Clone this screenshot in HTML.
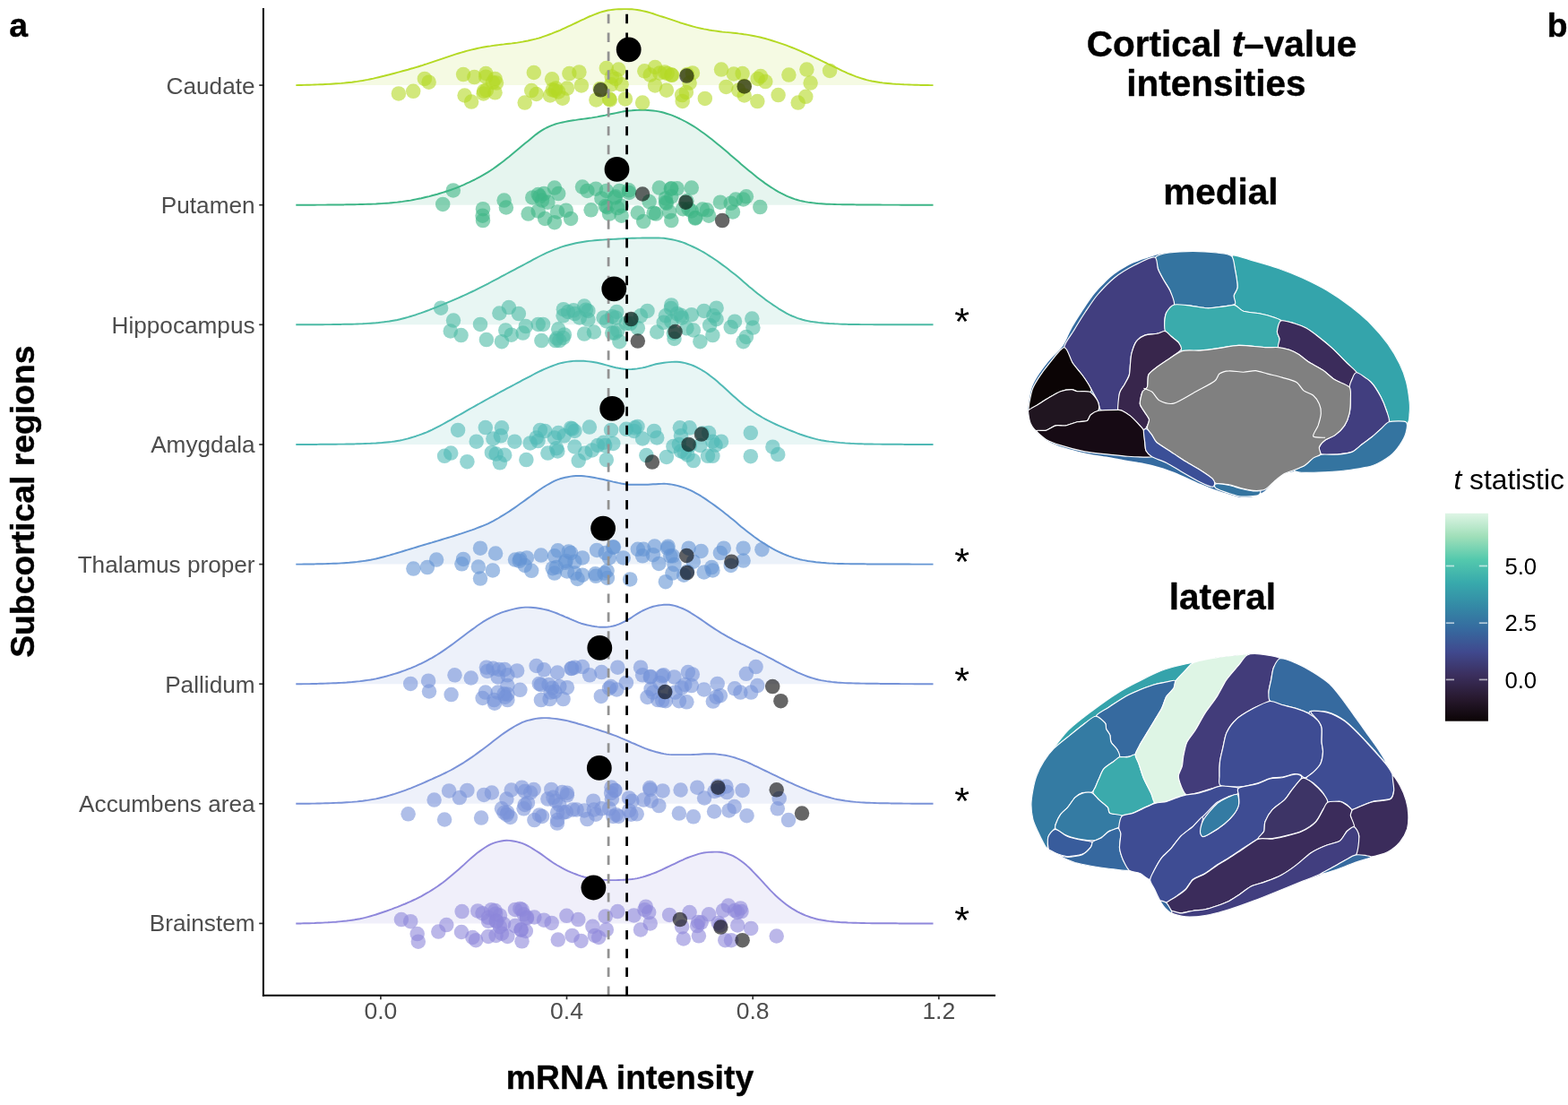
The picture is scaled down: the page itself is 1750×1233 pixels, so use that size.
<!DOCTYPE html>
<html lang="en"><head><meta charset="utf-8"><title>Subcortical mRNA intensity and cortical t-value intensities</title>
<style>html,body{margin:0;padding:0;background:#fff}svg{display:block}text{font-family:'Liberation Sans', Arial, Helvetica, sans-serif}</style></head><body>
<svg width="1750" height="1233" viewBox="0 0 1750 1233" role="img" aria-label="Ridgeline plot of subcortical mRNA intensity and cortical t-value brain maps">
<rect width="1750" height="1233" fill="#fff"/>
<g>
<path d="M330.3,95.1 L333.3,95 L336.3,95 L339.2,94.9 L342.2,94.8 L345.2,94.8 L348.2,94.6 L351.1,94.5 L354.1,94.4 L357.1,94.3 L360.1,94.2 L363,94 L366,93.9 L369,93.7 L372,93.5 L374.9,93.3 L377.9,93.1 L380.9,92.9 L383.9,92.6 L386.8,92.3 L389.8,92 L392.8,91.7 L395.8,91.3 L398.7,90.9 L401.7,90.4 L404.7,90 L407.7,89.4 L410.6,88.9 L413.6,88.2 L416.6,87.6 L419.6,86.9 L422.5,86.2 L425.5,85.5 L428.5,84.8 L431.5,84 L434.5,83.3 L437.4,82.5 L440.4,81.7 L443.4,80.9 L446.4,80.1 L449.3,79.3 L452.3,78.5 L455.3,77.7 L458.3,76.8 L461.2,76 L464.2,75.1 L467.2,74.2 L470.2,73.3 L473.1,72.3 L476.1,71.4 L479.1,70.4 L482.1,69.4 L485,68.4 L488,67.4 L491,66.4 L494,65.4 L496.9,64.4 L499.9,63.4 L502.9,62.4 L505.9,61.4 L508.8,60.4 L511.8,59.5 L514.8,58.6 L517.8,57.8 L520.7,56.9 L523.7,56.1 L526.7,55.4 L529.7,54.7 L532.6,54 L535.6,53.4 L538.6,52.8 L541.6,52.3 L544.6,51.8 L547.5,51.4 L550.5,50.9 L553.5,50.5 L556.5,50.1 L559.4,49.7 L562.4,49.4 L565.4,49 L568.4,48.7 L571.3,48.4 L574.3,48 L577.3,47.6 L580.3,47.1 L583.2,46.6 L586.2,46 L589.2,45.5 L592.2,44.8 L595.1,44.1 L598.1,43.4 L601.1,42.6 L604.1,41.7 L607,40.7 L610,39.6 L613,38.5 L616,37.4 L618.9,36.2 L621.9,35 L624.9,33.8 L627.9,32.4 L630.8,31.1 L633.8,29.7 L636.8,28.3 L639.8,26.9 L642.8,25.5 L645.7,24.1 L648.7,22.7 L651.7,21.3 L654.7,19.8 L657.6,18.5 L660.6,17.3 L663.6,16.1 L666.6,15 L669.5,13.9 L672.5,13 L675.5,12.2 L678.5,11.5 L681.4,11.1 L684.4,10.7 L687.4,10.4 L690.4,10.3 L693.3,10.2 L696.3,10.1 L699.3,10.1 L702.3,10.2 L705.2,10.3 L708.2,10.6 L711.2,11 L714.2,11.5 L717.1,12.1 L720.1,12.7 L723.1,13.5 L726.1,14.4 L729,15.3 L732,16.3 L735,17.3 L738,18.3 L741,19.2 L743.9,20.2 L746.9,21.2 L749.9,22.2 L752.9,23.2 L755.8,24.2 L758.8,25.2 L761.8,26.1 L764.8,27 L767.7,27.9 L770.7,28.8 L773.7,29.6 L776.7,30.4 L779.6,31.1 L782.6,31.8 L785.6,32.4 L788.6,32.9 L791.5,33.5 L794.5,34 L797.5,34.4 L800.5,34.8 L803.4,35.2 L806.4,35.6 L809.4,35.9 L812.4,36.1 L815.3,36.4 L818.3,36.7 L821.3,37 L824.3,37.4 L827.2,37.7 L830.2,38.2 L833.2,38.6 L836.2,39.1 L839.2,39.7 L842.1,40.3 L845.1,40.9 L848.1,41.5 L851.1,42.3 L854,43 L857,43.9 L860,44.8 L863,45.7 L865.9,46.6 L868.9,47.6 L871.9,48.6 L874.9,49.6 L877.8,50.7 L880.8,51.8 L883.8,53 L886.8,54.2 L889.7,55.4 L892.7,56.7 L895.7,58 L898.7,59.3 L901.6,60.7 L904.6,62 L907.6,63.4 L910.6,64.8 L913.5,66.2 L916.5,67.7 L919.5,69.1 L922.5,70.5 L925.4,72 L928.4,73.4 L931.4,74.8 L934.4,76.2 L937.3,77.6 L940.3,79.1 L943.3,80.4 L946.3,81.8 L949.3,83 L952.2,84.2 L955.2,85.3 L958.2,86.3 L961.2,87.3 L964.1,88.2 L967.1,89.1 L970.1,89.9 L973.1,90.5 L976,91 L979,91.5 L982,92 L985,92.4 L987.9,92.7 L990.9,93 L993.9,93.3 L996.9,93.6 L999.8,93.8 L1002.8,93.9 L1005.8,94.1 L1008.8,94.3 L1011.7,94.4 L1014.7,94.5 L1017.7,94.6 L1020.7,94.7 L1023.6,94.8 L1026.6,94.9 L1029.6,94.9 L1032.6,95 L1035.5,95 L1038.5,95.1 L1041.5,95.1 L1041.5,95.1 L330.3,95.1 Z" fill="#B4D924" fill-opacity="0.13" stroke="none"/>
<path d="M330.3,95.1 L333.3,95 L336.3,95 L339.2,94.9 L342.2,94.8 L345.2,94.8 L348.2,94.6 L351.1,94.5 L354.1,94.4 L357.1,94.3 L360.1,94.2 L363,94 L366,93.9 L369,93.7 L372,93.5 L374.9,93.3 L377.9,93.1 L380.9,92.9 L383.9,92.6 L386.8,92.3 L389.8,92 L392.8,91.7 L395.8,91.3 L398.7,90.9 L401.7,90.4 L404.7,90 L407.7,89.4 L410.6,88.9 L413.6,88.2 L416.6,87.6 L419.6,86.9 L422.5,86.2 L425.5,85.5 L428.5,84.8 L431.5,84 L434.5,83.3 L437.4,82.5 L440.4,81.7 L443.4,80.9 L446.4,80.1 L449.3,79.3 L452.3,78.5 L455.3,77.7 L458.3,76.8 L461.2,76 L464.2,75.1 L467.2,74.2 L470.2,73.3 L473.1,72.3 L476.1,71.4 L479.1,70.4 L482.1,69.4 L485,68.4 L488,67.4 L491,66.4 L494,65.4 L496.9,64.4 L499.9,63.4 L502.9,62.4 L505.9,61.4 L508.8,60.4 L511.8,59.5 L514.8,58.6 L517.8,57.8 L520.7,56.9 L523.7,56.1 L526.7,55.4 L529.7,54.7 L532.6,54 L535.6,53.4 L538.6,52.8 L541.6,52.3 L544.6,51.8 L547.5,51.4 L550.5,50.9 L553.5,50.5 L556.5,50.1 L559.4,49.7 L562.4,49.4 L565.4,49 L568.4,48.7 L571.3,48.4 L574.3,48 L577.3,47.6 L580.3,47.1 L583.2,46.6 L586.2,46 L589.2,45.5 L592.2,44.8 L595.1,44.1 L598.1,43.4 L601.1,42.6 L604.1,41.7 L607,40.7 L610,39.6 L613,38.5 L616,37.4 L618.9,36.2 L621.9,35 L624.9,33.8 L627.9,32.4 L630.8,31.1 L633.8,29.7 L636.8,28.3 L639.8,26.9 L642.8,25.5 L645.7,24.1 L648.7,22.7 L651.7,21.3 L654.7,19.8 L657.6,18.5 L660.6,17.3 L663.6,16.1 L666.6,15 L669.5,13.9 L672.5,13 L675.5,12.2 L678.5,11.5 L681.4,11.1 L684.4,10.7 L687.4,10.4 L690.4,10.3 L693.3,10.2 L696.3,10.1 L699.3,10.1 L702.3,10.2 L705.2,10.3 L708.2,10.6 L711.2,11 L714.2,11.5 L717.1,12.1 L720.1,12.7 L723.1,13.5 L726.1,14.4 L729,15.3 L732,16.3 L735,17.3 L738,18.3 L741,19.2 L743.9,20.2 L746.9,21.2 L749.9,22.2 L752.9,23.2 L755.8,24.2 L758.8,25.2 L761.8,26.1 L764.8,27 L767.7,27.9 L770.7,28.8 L773.7,29.6 L776.7,30.4 L779.6,31.1 L782.6,31.8 L785.6,32.4 L788.6,32.9 L791.5,33.5 L794.5,34 L797.5,34.4 L800.5,34.8 L803.4,35.2 L806.4,35.6 L809.4,35.9 L812.4,36.1 L815.3,36.4 L818.3,36.7 L821.3,37 L824.3,37.4 L827.2,37.7 L830.2,38.2 L833.2,38.6 L836.2,39.1 L839.2,39.7 L842.1,40.3 L845.1,40.9 L848.1,41.5 L851.1,42.3 L854,43 L857,43.9 L860,44.8 L863,45.7 L865.9,46.6 L868.9,47.6 L871.9,48.6 L874.9,49.6 L877.8,50.7 L880.8,51.8 L883.8,53 L886.8,54.2 L889.7,55.4 L892.7,56.7 L895.7,58 L898.7,59.3 L901.6,60.7 L904.6,62 L907.6,63.4 L910.6,64.8 L913.5,66.2 L916.5,67.7 L919.5,69.1 L922.5,70.5 L925.4,72 L928.4,73.4 L931.4,74.8 L934.4,76.2 L937.3,77.6 L940.3,79.1 L943.3,80.4 L946.3,81.8 L949.3,83 L952.2,84.2 L955.2,85.3 L958.2,86.3 L961.2,87.3 L964.1,88.2 L967.1,89.1 L970.1,89.9 L973.1,90.5 L976,91 L979,91.5 L982,92 L985,92.4 L987.9,92.7 L990.9,93 L993.9,93.3 L996.9,93.6 L999.8,93.8 L1002.8,93.9 L1005.8,94.1 L1008.8,94.3 L1011.7,94.4 L1014.7,94.5 L1017.7,94.6 L1020.7,94.7 L1023.6,94.8 L1026.6,94.9 L1029.6,94.9 L1032.6,95 L1035.5,95 L1038.5,95.1 L1041.5,95.1" fill="none" stroke="#B4D924" stroke-width="1.95" stroke-linejoin="round"/>
</g>
<g>
<path d="M330.3,228.7 L333.3,228.7 L336.3,228.7 L339.2,228.7 L342.2,228.7 L345.2,228.7 L348.2,228.7 L351.1,228.7 L354.1,228.6 L357.1,228.6 L360.1,228.6 L363,228.6 L366,228.5 L369,228.5 L372,228.5 L374.9,228.4 L377.9,228.4 L380.9,228.4 L383.9,228.4 L386.8,228.3 L389.8,228.3 L392.8,228.2 L395.8,228.2 L398.7,228.1 L401.7,228 L404.7,228 L407.7,227.9 L410.6,227.8 L413.6,227.7 L416.6,227.6 L419.6,227.5 L422.5,227.3 L425.5,227.1 L428.5,226.9 L431.5,226.7 L434.5,226.5 L437.4,226.2 L440.4,225.9 L443.4,225.6 L446.4,225.2 L449.3,224.9 L452.3,224.4 L455.3,224 L458.3,223.6 L461.2,223 L464.2,222.4 L467.2,221.8 L470.2,221.2 L473.1,220.5 L476.1,219.8 L479.1,219.1 L482.1,218.3 L485,217.5 L488,216.7 L491,215.8 L494,214.9 L496.9,214 L499.9,213 L502.9,212 L505.9,210.9 L508.8,209.8 L511.8,208.6 L514.8,207.3 L517.8,206.1 L520.7,204.7 L523.7,203.4 L526.7,201.9 L529.7,200.5 L532.6,198.9 L535.6,197.3 L538.6,195.7 L541.6,193.9 L544.6,192.1 L547.5,190.2 L550.5,188.2 L553.5,186.1 L556.5,183.9 L559.4,181.7 L562.4,179.4 L565.4,177 L568.4,174.7 L571.3,172.3 L574.3,169.8 L577.3,167.3 L580.3,164.8 L583.2,162.3 L586.2,159.8 L589.2,157.4 L592.2,154.9 L595.1,152.5 L598.1,150.1 L601.1,147.9 L604.1,145.9 L607,144.1 L610,142.5 L613,141.1 L616,139.8 L618.9,138.8 L621.9,137.9 L624.9,137.1 L627.9,136.5 L630.8,135.9 L633.8,135.3 L636.8,134.8 L639.8,134.3 L642.8,133.9 L645.7,133.4 L648.7,133 L651.7,132.6 L654.7,132.2 L657.6,131.8 L660.6,131.4 L663.6,130.9 L666.6,130.4 L669.5,129.8 L672.5,129.2 L675.5,128.6 L678.5,127.9 L681.4,127.3 L684.4,126.7 L687.4,126.1 L690.4,125.5 L693.3,124.9 L696.3,124.3 L699.3,123.9 L702.3,123.5 L705.2,123.3 L708.2,123 L711.2,122.9 L714.2,122.8 L717.1,122.8 L720.1,122.8 L723.1,123 L726.1,123.2 L729,123.5 L732,123.9 L735,124.4 L738,125 L741,125.8 L743.9,126.7 L746.9,127.7 L749.9,128.7 L752.9,129.9 L755.8,131.2 L758.8,132.5 L761.8,134 L764.8,135.5 L767.7,137.1 L770.7,138.8 L773.7,140.6 L776.7,142.5 L779.6,144.5 L782.6,146.7 L785.6,148.8 L788.6,151.1 L791.5,153.3 L794.5,155.6 L797.5,158 L800.5,160.4 L803.4,162.8 L806.4,165.3 L809.4,167.8 L812.4,170.3 L815.3,172.9 L818.3,175.4 L821.3,178 L824.3,180.6 L827.2,183.2 L830.2,185.7 L833.2,188.2 L836.2,190.7 L839.2,193.1 L842.1,195.5 L845.1,197.9 L848.1,200.2 L851.1,202.4 L854,204.6 L857,206.6 L860,208.6 L863,210.5 L865.9,212.3 L868.9,214.1 L871.9,215.7 L874.9,217.2 L877.8,218.6 L880.8,219.8 L883.8,221 L886.8,222.1 L889.7,223 L892.7,223.9 L895.7,224.5 L898.7,225.1 L901.6,225.6 L904.6,226 L907.6,226.4 L910.6,226.8 L913.5,227.1 L916.5,227.3 L919.5,227.5 L922.5,227.7 L925.4,227.8 L928.4,227.9 L931.4,228 L934.4,228.1 L937.3,228.1 L940.3,228.2 L943.3,228.2 L946.3,228.3 L949.3,228.3 L952.2,228.3 L955.2,228.4 L958.2,228.4 L961.2,228.4 L964.1,228.4 L967.1,228.5 L970.1,228.5 L973.1,228.5 L976,228.5 L979,228.5 L982,228.5 L985,228.6 L987.9,228.6 L990.9,228.6 L993.9,228.6 L996.9,228.6 L999.8,228.6 L1002.8,228.6 L1005.8,228.7 L1008.8,228.7 L1011.7,228.7 L1014.7,228.7 L1017.7,228.7 L1020.7,228.7 L1023.6,228.7 L1026.6,228.7 L1029.6,228.7 L1032.6,228.7 L1035.5,228.7 L1038.5,228.7 L1041.5,228.7 L1041.5,228.7 L330.3,228.7 Z" fill="#3DB586" fill-opacity="0.13" stroke="none"/>
<path d="M330.3,228.7 L333.3,228.7 L336.3,228.7 L339.2,228.7 L342.2,228.7 L345.2,228.7 L348.2,228.7 L351.1,228.7 L354.1,228.6 L357.1,228.6 L360.1,228.6 L363,228.6 L366,228.5 L369,228.5 L372,228.5 L374.9,228.4 L377.9,228.4 L380.9,228.4 L383.9,228.4 L386.8,228.3 L389.8,228.3 L392.8,228.2 L395.8,228.2 L398.7,228.1 L401.7,228 L404.7,228 L407.7,227.9 L410.6,227.8 L413.6,227.7 L416.6,227.6 L419.6,227.5 L422.5,227.3 L425.5,227.1 L428.5,226.9 L431.5,226.7 L434.5,226.5 L437.4,226.2 L440.4,225.9 L443.4,225.6 L446.4,225.2 L449.3,224.9 L452.3,224.4 L455.3,224 L458.3,223.6 L461.2,223 L464.2,222.4 L467.2,221.8 L470.2,221.2 L473.1,220.5 L476.1,219.8 L479.1,219.1 L482.1,218.3 L485,217.5 L488,216.7 L491,215.8 L494,214.9 L496.9,214 L499.9,213 L502.9,212 L505.9,210.9 L508.8,209.8 L511.8,208.6 L514.8,207.3 L517.8,206.1 L520.7,204.7 L523.7,203.4 L526.7,201.9 L529.7,200.5 L532.6,198.9 L535.6,197.3 L538.6,195.7 L541.6,193.9 L544.6,192.1 L547.5,190.2 L550.5,188.2 L553.5,186.1 L556.5,183.9 L559.4,181.7 L562.4,179.4 L565.4,177 L568.4,174.7 L571.3,172.3 L574.3,169.8 L577.3,167.3 L580.3,164.8 L583.2,162.3 L586.2,159.8 L589.2,157.4 L592.2,154.9 L595.1,152.5 L598.1,150.1 L601.1,147.9 L604.1,145.9 L607,144.1 L610,142.5 L613,141.1 L616,139.8 L618.9,138.8 L621.9,137.9 L624.9,137.1 L627.9,136.5 L630.8,135.9 L633.8,135.3 L636.8,134.8 L639.8,134.3 L642.8,133.9 L645.7,133.4 L648.7,133 L651.7,132.6 L654.7,132.2 L657.6,131.8 L660.6,131.4 L663.6,130.9 L666.6,130.4 L669.5,129.8 L672.5,129.2 L675.5,128.6 L678.5,127.9 L681.4,127.3 L684.4,126.7 L687.4,126.1 L690.4,125.5 L693.3,124.9 L696.3,124.3 L699.3,123.9 L702.3,123.5 L705.2,123.3 L708.2,123 L711.2,122.9 L714.2,122.8 L717.1,122.8 L720.1,122.8 L723.1,123 L726.1,123.2 L729,123.5 L732,123.9 L735,124.4 L738,125 L741,125.8 L743.9,126.7 L746.9,127.7 L749.9,128.7 L752.9,129.9 L755.8,131.2 L758.8,132.5 L761.8,134 L764.8,135.5 L767.7,137.1 L770.7,138.8 L773.7,140.6 L776.7,142.5 L779.6,144.5 L782.6,146.7 L785.6,148.8 L788.6,151.1 L791.5,153.3 L794.5,155.6 L797.5,158 L800.5,160.4 L803.4,162.8 L806.4,165.3 L809.4,167.8 L812.4,170.3 L815.3,172.9 L818.3,175.4 L821.3,178 L824.3,180.6 L827.2,183.2 L830.2,185.7 L833.2,188.2 L836.2,190.7 L839.2,193.1 L842.1,195.5 L845.1,197.9 L848.1,200.2 L851.1,202.4 L854,204.6 L857,206.6 L860,208.6 L863,210.5 L865.9,212.3 L868.9,214.1 L871.9,215.7 L874.9,217.2 L877.8,218.6 L880.8,219.8 L883.8,221 L886.8,222.1 L889.7,223 L892.7,223.9 L895.7,224.5 L898.7,225.1 L901.6,225.6 L904.6,226 L907.6,226.4 L910.6,226.8 L913.5,227.1 L916.5,227.3 L919.5,227.5 L922.5,227.7 L925.4,227.8 L928.4,227.9 L931.4,228 L934.4,228.1 L937.3,228.1 L940.3,228.2 L943.3,228.2 L946.3,228.3 L949.3,228.3 L952.2,228.3 L955.2,228.4 L958.2,228.4 L961.2,228.4 L964.1,228.4 L967.1,228.5 L970.1,228.5 L973.1,228.5 L976,228.5 L979,228.5 L982,228.5 L985,228.6 L987.9,228.6 L990.9,228.6 L993.9,228.6 L996.9,228.6 L999.8,228.6 L1002.8,228.6 L1005.8,228.7 L1008.8,228.7 L1011.7,228.7 L1014.7,228.7 L1017.7,228.7 L1020.7,228.7 L1023.6,228.7 L1026.6,228.7 L1029.6,228.7 L1032.6,228.7 L1035.5,228.7 L1038.5,228.7 L1041.5,228.7" fill="none" stroke="#3DB586" stroke-width="1.95" stroke-linejoin="round"/>
</g>
<g>
<path d="M330.3,362.3 L333.3,362.3 L336.3,362.3 L339.2,362.3 L342.2,362.3 L345.2,362.3 L348.2,362.3 L351.1,362.3 L354.1,362.2 L357.1,362.2 L360.1,362.2 L363,362.1 L366,362.1 L369,362.1 L372,362 L374.9,362 L377.9,361.9 L380.9,361.9 L383.9,361.8 L386.8,361.8 L389.8,361.7 L392.8,361.7 L395.8,361.6 L398.7,361.5 L401.7,361.4 L404.7,361.3 L407.7,361.1 L410.6,360.9 L413.6,360.7 L416.6,360.5 L419.6,360.3 L422.5,360 L425.5,359.6 L428.5,359.3 L431.5,358.9 L434.5,358.5 L437.4,358 L440.4,357.5 L443.4,357 L446.4,356.3 L449.3,355.5 L452.3,354.7 L455.3,353.9 L458.3,353 L461.2,352.1 L464.2,351.2 L467.2,350.2 L470.2,349.2 L473.1,348.1 L476.1,347 L479.1,345.9 L482.1,344.7 L485,343.6 L488,342.4 L491,341.2 L494,339.9 L496.9,338.7 L499.9,337.4 L502.9,336.2 L505.9,334.9 L508.8,333.6 L511.8,332.3 L514.8,331 L517.8,329.7 L520.7,328.3 L523.7,326.9 L526.7,325.5 L529.7,324.1 L532.6,322.6 L535.6,321.1 L538.6,319.6 L541.6,318.1 L544.6,316.6 L547.5,315 L550.5,313.4 L553.5,311.9 L556.5,310.3 L559.4,308.7 L562.4,307.1 L565.4,305.5 L568.4,303.9 L571.3,302.4 L574.3,300.8 L577.3,299.2 L580.3,297.6 L583.2,296.1 L586.2,294.5 L589.2,292.9 L592.2,291.3 L595.1,289.7 L598.1,288.1 L601.1,286.5 L604.1,285 L607,283.6 L610,282.2 L613,280.9 L616,279.6 L618.9,278.4 L621.9,277.3 L624.9,276.2 L627.9,275.2 L630.8,274.3 L633.8,273.5 L636.8,272.7 L639.8,272 L642.8,271.3 L645.7,270.7 L648.7,270.2 L651.7,269.7 L654.7,269.3 L657.6,268.9 L660.6,268.6 L663.6,268.3 L666.6,268 L669.5,267.8 L672.5,267.6 L675.5,267.4 L678.5,267.2 L681.4,267 L684.4,266.9 L687.4,266.7 L690.4,266.5 L693.3,266.4 L696.3,266.2 L699.3,266 L702.3,265.9 L705.2,265.8 L708.2,265.7 L711.2,265.6 L714.2,265.6 L717.1,265.5 L720.1,265.5 L723.1,265.4 L726.1,265.4 L729,265.4 L732,265.4 L735,265.4 L738,265.6 L741,265.8 L743.9,266.2 L746.9,266.7 L749.9,267.3 L752.9,267.9 L755.8,268.6 L758.8,269.5 L761.8,270.4 L764.8,271.5 L767.7,272.8 L770.7,274.1 L773.7,275.5 L776.7,276.9 L779.6,278.4 L782.6,280 L785.6,281.7 L788.6,283.5 L791.5,285.4 L794.5,287.3 L797.5,289.3 L800.5,291.3 L803.4,293.4 L806.4,295.6 L809.4,297.8 L812.4,300.1 L815.3,302.4 L818.3,304.7 L821.3,307.1 L824.3,309.6 L827.2,312.1 L830.2,314.7 L833.2,317.3 L836.2,319.9 L839.2,322.3 L842.1,324.8 L845.1,327.2 L848.1,329.5 L851.1,331.8 L854,334.1 L857,336.2 L860,338.3 L863,340.4 L865.9,342.3 L868.9,344.3 L871.9,346.1 L874.9,347.9 L877.8,349.6 L880.8,351.1 L883.8,352.5 L886.8,353.7 L889.7,354.8 L892.7,355.8 L895.7,356.7 L898.7,357.5 L901.6,358.1 L904.6,358.7 L907.6,359.1 L910.6,359.5 L913.5,359.9 L916.5,360.2 L919.5,360.5 L922.5,360.7 L925.4,361 L928.4,361.1 L931.4,361.3 L934.4,361.4 L937.3,361.6 L940.3,361.7 L943.3,361.8 L946.3,361.9 L949.3,361.9 L952.2,362 L955.2,362 L958.2,362 L961.2,362.1 L964.1,362.1 L967.1,362.1 L970.1,362.1 L973.1,362.1 L976,362.2 L979,362.2 L982,362.2 L985,362.2 L987.9,362.2 L990.9,362.2 L993.9,362.2 L996.9,362.3 L999.8,362.3 L1002.8,362.3 L1005.8,362.3 L1008.8,362.3 L1011.7,362.3 L1014.7,362.3 L1017.7,362.3 L1020.7,362.3 L1023.6,362.3 L1026.6,362.3 L1029.6,362.3 L1032.6,362.3 L1035.5,362.3 L1038.5,362.3 L1041.5,362.3 L1041.5,362.3 L330.3,362.3 Z" fill="#4CBBA5" fill-opacity="0.13" stroke="none"/>
<path d="M330.3,362.3 L333.3,362.3 L336.3,362.3 L339.2,362.3 L342.2,362.3 L345.2,362.3 L348.2,362.3 L351.1,362.3 L354.1,362.2 L357.1,362.2 L360.1,362.2 L363,362.1 L366,362.1 L369,362.1 L372,362 L374.9,362 L377.9,361.9 L380.9,361.9 L383.9,361.8 L386.8,361.8 L389.8,361.7 L392.8,361.7 L395.8,361.6 L398.7,361.5 L401.7,361.4 L404.7,361.3 L407.7,361.1 L410.6,360.9 L413.6,360.7 L416.6,360.5 L419.6,360.3 L422.5,360 L425.5,359.6 L428.5,359.3 L431.5,358.9 L434.5,358.5 L437.4,358 L440.4,357.5 L443.4,357 L446.4,356.3 L449.3,355.5 L452.3,354.7 L455.3,353.9 L458.3,353 L461.2,352.1 L464.2,351.2 L467.2,350.2 L470.2,349.2 L473.1,348.1 L476.1,347 L479.1,345.9 L482.1,344.7 L485,343.6 L488,342.4 L491,341.2 L494,339.9 L496.9,338.7 L499.9,337.4 L502.9,336.2 L505.9,334.9 L508.8,333.6 L511.8,332.3 L514.8,331 L517.8,329.7 L520.7,328.3 L523.7,326.9 L526.7,325.5 L529.7,324.1 L532.6,322.6 L535.6,321.1 L538.6,319.6 L541.6,318.1 L544.6,316.6 L547.5,315 L550.5,313.4 L553.5,311.9 L556.5,310.3 L559.4,308.7 L562.4,307.1 L565.4,305.5 L568.4,303.9 L571.3,302.4 L574.3,300.8 L577.3,299.2 L580.3,297.6 L583.2,296.1 L586.2,294.5 L589.2,292.9 L592.2,291.3 L595.1,289.7 L598.1,288.1 L601.1,286.5 L604.1,285 L607,283.6 L610,282.2 L613,280.9 L616,279.6 L618.9,278.4 L621.9,277.3 L624.9,276.2 L627.9,275.2 L630.8,274.3 L633.8,273.5 L636.8,272.7 L639.8,272 L642.8,271.3 L645.7,270.7 L648.7,270.2 L651.7,269.7 L654.7,269.3 L657.6,268.9 L660.6,268.6 L663.6,268.3 L666.6,268 L669.5,267.8 L672.5,267.6 L675.5,267.4 L678.5,267.2 L681.4,267 L684.4,266.9 L687.4,266.7 L690.4,266.5 L693.3,266.4 L696.3,266.2 L699.3,266 L702.3,265.9 L705.2,265.8 L708.2,265.7 L711.2,265.6 L714.2,265.6 L717.1,265.5 L720.1,265.5 L723.1,265.4 L726.1,265.4 L729,265.4 L732,265.4 L735,265.4 L738,265.6 L741,265.8 L743.9,266.2 L746.9,266.7 L749.9,267.3 L752.9,267.9 L755.8,268.6 L758.8,269.5 L761.8,270.4 L764.8,271.5 L767.7,272.8 L770.7,274.1 L773.7,275.5 L776.7,276.9 L779.6,278.4 L782.6,280 L785.6,281.7 L788.6,283.5 L791.5,285.4 L794.5,287.3 L797.5,289.3 L800.5,291.3 L803.4,293.4 L806.4,295.6 L809.4,297.8 L812.4,300.1 L815.3,302.4 L818.3,304.7 L821.3,307.1 L824.3,309.6 L827.2,312.1 L830.2,314.7 L833.2,317.3 L836.2,319.9 L839.2,322.3 L842.1,324.8 L845.1,327.2 L848.1,329.5 L851.1,331.8 L854,334.1 L857,336.2 L860,338.3 L863,340.4 L865.9,342.3 L868.9,344.3 L871.9,346.1 L874.9,347.9 L877.8,349.6 L880.8,351.1 L883.8,352.5 L886.8,353.7 L889.7,354.8 L892.7,355.8 L895.7,356.7 L898.7,357.5 L901.6,358.1 L904.6,358.7 L907.6,359.1 L910.6,359.5 L913.5,359.9 L916.5,360.2 L919.5,360.5 L922.5,360.7 L925.4,361 L928.4,361.1 L931.4,361.3 L934.4,361.4 L937.3,361.6 L940.3,361.7 L943.3,361.8 L946.3,361.9 L949.3,361.9 L952.2,362 L955.2,362 L958.2,362 L961.2,362.1 L964.1,362.1 L967.1,362.1 L970.1,362.1 L973.1,362.1 L976,362.2 L979,362.2 L982,362.2 L985,362.2 L987.9,362.2 L990.9,362.2 L993.9,362.2 L996.9,362.3 L999.8,362.3 L1002.8,362.3 L1005.8,362.3 L1008.8,362.3 L1011.7,362.3 L1014.7,362.3 L1017.7,362.3 L1020.7,362.3 L1023.6,362.3 L1026.6,362.3 L1029.6,362.3 L1032.6,362.3 L1035.5,362.3 L1038.5,362.3 L1041.5,362.3" fill="none" stroke="#4CBBA5" stroke-width="1.95" stroke-linejoin="round"/>
</g>
<g>
<path d="M330.3,496 L333.3,496 L336.3,496 L339.2,495.9 L342.2,495.9 L345.2,495.9 L348.2,495.9 L351.1,495.9 L354.1,495.9 L357.1,495.8 L360.1,495.8 L363,495.8 L366,495.8 L369,495.7 L372,495.7 L374.9,495.7 L377.9,495.6 L380.9,495.6 L383.9,495.6 L386.8,495.5 L389.8,495.5 L392.8,495.4 L395.8,495.4 L398.7,495.3 L401.7,495.2 L404.7,495.1 L407.7,495 L410.6,494.9 L413.6,494.8 L416.6,494.6 L419.6,494.5 L422.5,494.3 L425.5,494.1 L428.5,493.8 L431.5,493.5 L434.5,493.2 L437.4,492.9 L440.4,492.5 L443.4,492 L446.4,491.5 L449.3,490.9 L452.3,490.1 L455.3,489.4 L458.3,488.5 L461.2,487.6 L464.2,486.7 L467.2,485.7 L470.2,484.6 L473.1,483.5 L476.1,482.3 L479.1,481 L482.1,479.7 L485,478.2 L488,476.7 L491,475.2 L494,473.5 L496.9,471.9 L499.9,470.2 L502.9,468.6 L505.9,466.9 L508.8,465.2 L511.8,463.5 L514.8,461.8 L517.8,460.1 L520.7,458.4 L523.7,456.7 L526.7,455 L529.7,453.3 L532.6,451.6 L535.6,450 L538.6,448.3 L541.6,446.7 L544.6,445 L547.5,443.4 L550.5,441.8 L553.5,440.1 L556.5,438.5 L559.4,436.9 L562.4,435.3 L565.4,433.7 L568.4,432.2 L571.3,430.6 L574.3,429 L577.3,427.4 L580.3,425.8 L583.2,424.2 L586.2,422.7 L589.2,421.1 L592.2,419.6 L595.1,418 L598.1,416.4 L601.1,414.9 L604.1,413.5 L607,412.1 L610,410.8 L613,409.6 L616,408.5 L618.9,407.4 L621.9,406.3 L624.9,405.4 L627.9,404.7 L630.8,404.1 L633.8,403.6 L636.8,403.2 L639.8,402.9 L642.8,402.7 L645.7,402.6 L648.7,402.7 L651.7,402.8 L654.7,403.1 L657.6,403.4 L660.6,403.8 L663.6,404.2 L666.6,404.8 L669.5,405.5 L672.5,406.3 L675.5,407.1 L678.5,407.9 L681.4,408.7 L684.4,409.5 L687.4,410.2 L690.4,410.8 L693.3,411.3 L696.3,411.7 L699.3,412 L702.3,412.1 L705.2,412 L708.2,411.7 L711.2,411.4 L714.2,410.9 L717.1,410.4 L720.1,409.7 L723.1,408.9 L726.1,408 L729,407.1 L732,406.3 L735,405.7 L738,405.2 L741,404.8 L743.9,404.4 L746.9,404.1 L749.9,403.9 L752.9,403.8 L755.8,403.8 L758.8,404 L761.8,404.5 L764.8,405.1 L767.7,406 L770.7,406.9 L773.7,408 L776.7,409.4 L779.6,410.9 L782.6,412.5 L785.6,414.3 L788.6,416.3 L791.5,418.4 L794.5,420.7 L797.5,423.1 L800.5,425.6 L803.4,428.2 L806.4,430.8 L809.4,433.5 L812.4,436.3 L815.3,439 L818.3,441.7 L821.3,444.3 L824.3,446.9 L827.2,449.4 L830.2,451.9 L833.2,454.2 L836.2,456.4 L839.2,458.5 L842.1,460.5 L845.1,462.4 L848.1,464.2 L851.1,466 L854,467.6 L857,469.2 L860,470.7 L863,472.1 L865.9,473.5 L868.9,474.8 L871.9,476.1 L874.9,477.4 L877.8,478.6 L880.8,479.8 L883.8,481 L886.8,482.2 L889.7,483.4 L892.7,484.5 L895.7,485.5 L898.7,486.5 L901.6,487.4 L904.6,488.3 L907.6,489.1 L910.6,489.9 L913.5,490.6 L916.5,491.2 L919.5,491.7 L922.5,492.2 L925.4,492.6 L928.4,492.9 L931.4,493.3 L934.4,493.6 L937.3,493.9 L940.3,494.1 L943.3,494.4 L946.3,494.6 L949.3,494.8 L952.2,494.9 L955.2,495.1 L958.2,495.2 L961.2,495.3 L964.1,495.4 L967.1,495.4 L970.1,495.5 L973.1,495.5 L976,495.6 L979,495.6 L982,495.6 L985,495.7 L987.9,495.7 L990.9,495.7 L993.9,495.7 L996.9,495.8 L999.8,495.8 L1002.8,495.8 L1005.8,495.8 L1008.8,495.9 L1011.7,495.9 L1014.7,495.9 L1017.7,495.9 L1020.7,495.9 L1023.6,495.9 L1026.6,495.9 L1029.6,495.9 L1032.6,496 L1035.5,496 L1038.5,496 L1041.5,496 L1041.5,496 L330.3,496 Z" fill="#4FB9B5" fill-opacity="0.13" stroke="none"/>
<path d="M330.3,496 L333.3,496 L336.3,496 L339.2,495.9 L342.2,495.9 L345.2,495.9 L348.2,495.9 L351.1,495.9 L354.1,495.9 L357.1,495.8 L360.1,495.8 L363,495.8 L366,495.8 L369,495.7 L372,495.7 L374.9,495.7 L377.9,495.6 L380.9,495.6 L383.9,495.6 L386.8,495.5 L389.8,495.5 L392.8,495.4 L395.8,495.4 L398.7,495.3 L401.7,495.2 L404.7,495.1 L407.7,495 L410.6,494.9 L413.6,494.8 L416.6,494.6 L419.6,494.5 L422.5,494.3 L425.5,494.1 L428.5,493.8 L431.5,493.5 L434.5,493.2 L437.4,492.9 L440.4,492.5 L443.4,492 L446.4,491.5 L449.3,490.9 L452.3,490.1 L455.3,489.4 L458.3,488.5 L461.2,487.6 L464.2,486.7 L467.2,485.7 L470.2,484.6 L473.1,483.5 L476.1,482.3 L479.1,481 L482.1,479.7 L485,478.2 L488,476.7 L491,475.2 L494,473.5 L496.9,471.9 L499.9,470.2 L502.9,468.6 L505.9,466.9 L508.8,465.2 L511.8,463.5 L514.8,461.8 L517.8,460.1 L520.7,458.4 L523.7,456.7 L526.7,455 L529.7,453.3 L532.6,451.6 L535.6,450 L538.6,448.3 L541.6,446.7 L544.6,445 L547.5,443.4 L550.5,441.8 L553.5,440.1 L556.5,438.5 L559.4,436.9 L562.4,435.3 L565.4,433.7 L568.4,432.2 L571.3,430.6 L574.3,429 L577.3,427.4 L580.3,425.8 L583.2,424.2 L586.2,422.7 L589.2,421.1 L592.2,419.6 L595.1,418 L598.1,416.4 L601.1,414.9 L604.1,413.5 L607,412.1 L610,410.8 L613,409.6 L616,408.5 L618.9,407.4 L621.9,406.3 L624.9,405.4 L627.9,404.7 L630.8,404.1 L633.8,403.6 L636.8,403.2 L639.8,402.9 L642.8,402.7 L645.7,402.6 L648.7,402.7 L651.7,402.8 L654.7,403.1 L657.6,403.4 L660.6,403.8 L663.6,404.2 L666.6,404.8 L669.5,405.5 L672.5,406.3 L675.5,407.1 L678.5,407.9 L681.4,408.7 L684.4,409.5 L687.4,410.2 L690.4,410.8 L693.3,411.3 L696.3,411.7 L699.3,412 L702.3,412.1 L705.2,412 L708.2,411.7 L711.2,411.4 L714.2,410.9 L717.1,410.4 L720.1,409.7 L723.1,408.9 L726.1,408 L729,407.1 L732,406.3 L735,405.7 L738,405.2 L741,404.8 L743.9,404.4 L746.9,404.1 L749.9,403.9 L752.9,403.8 L755.8,403.8 L758.8,404 L761.8,404.5 L764.8,405.1 L767.7,406 L770.7,406.9 L773.7,408 L776.7,409.4 L779.6,410.9 L782.6,412.5 L785.6,414.3 L788.6,416.3 L791.5,418.4 L794.5,420.7 L797.5,423.1 L800.5,425.6 L803.4,428.2 L806.4,430.8 L809.4,433.5 L812.4,436.3 L815.3,439 L818.3,441.7 L821.3,444.3 L824.3,446.9 L827.2,449.4 L830.2,451.9 L833.2,454.2 L836.2,456.4 L839.2,458.5 L842.1,460.5 L845.1,462.4 L848.1,464.2 L851.1,466 L854,467.6 L857,469.2 L860,470.7 L863,472.1 L865.9,473.5 L868.9,474.8 L871.9,476.1 L874.9,477.4 L877.8,478.6 L880.8,479.8 L883.8,481 L886.8,482.2 L889.7,483.4 L892.7,484.5 L895.7,485.5 L898.7,486.5 L901.6,487.4 L904.6,488.3 L907.6,489.1 L910.6,489.9 L913.5,490.6 L916.5,491.2 L919.5,491.7 L922.5,492.2 L925.4,492.6 L928.4,492.9 L931.4,493.3 L934.4,493.6 L937.3,493.9 L940.3,494.1 L943.3,494.4 L946.3,494.6 L949.3,494.8 L952.2,494.9 L955.2,495.1 L958.2,495.2 L961.2,495.3 L964.1,495.4 L967.1,495.4 L970.1,495.5 L973.1,495.5 L976,495.6 L979,495.6 L982,495.6 L985,495.7 L987.9,495.7 L990.9,495.7 L993.9,495.7 L996.9,495.8 L999.8,495.8 L1002.8,495.8 L1005.8,495.8 L1008.8,495.9 L1011.7,495.9 L1014.7,495.9 L1017.7,495.9 L1020.7,495.9 L1023.6,495.9 L1026.6,495.9 L1029.6,495.9 L1032.6,496 L1035.5,496 L1038.5,496 L1041.5,496" fill="none" stroke="#4FB9B5" stroke-width="1.95" stroke-linejoin="round"/>
</g>
<g>
<path d="M330.3,629.6 L333.3,629.6 L336.3,629.6 L339.2,629.5 L342.2,629.5 L345.2,629.5 L348.2,629.4 L351.1,629.4 L354.1,629.3 L357.1,629.2 L360.1,629.2 L363,629.1 L366,629 L369,628.9 L372,628.8 L374.9,628.7 L377.9,628.6 L380.9,628.4 L383.9,628.2 L386.8,628 L389.8,627.8 L392.8,627.5 L395.8,627.2 L398.7,626.9 L401.7,626.5 L404.7,626.1 L407.7,625.7 L410.6,625.2 L413.6,624.7 L416.6,624.1 L419.6,623.5 L422.5,622.8 L425.5,622 L428.5,621.2 L431.5,620.4 L434.5,619.6 L437.4,618.7 L440.4,617.9 L443.4,617 L446.4,616.1 L449.3,615.2 L452.3,614.3 L455.3,613.4 L458.3,612.5 L461.2,611.6 L464.2,610.7 L467.2,609.8 L470.2,608.9 L473.1,608 L476.1,607.1 L479.1,606.2 L482.1,605.4 L485,604.5 L488,603.6 L491,602.7 L494,601.8 L496.9,600.9 L499.9,600 L502.9,599.1 L505.9,598.2 L508.8,597.3 L511.8,596.3 L514.8,595.4 L517.8,594.4 L520.7,593.4 L523.7,592.4 L526.7,591.4 L529.7,590.3 L532.6,589.2 L535.6,588 L538.6,586.8 L541.6,585.6 L544.6,584.3 L547.5,582.8 L550.5,581.3 L553.5,579.7 L556.5,578 L559.4,576.2 L562.4,574.4 L565.4,572.5 L568.4,570.6 L571.3,568.6 L574.3,566.6 L577.3,564.5 L580.3,562.3 L583.2,560.2 L586.2,558.1 L589.2,555.9 L592.2,553.8 L595.1,551.6 L598.1,549.4 L601.1,547.3 L604.1,545.2 L607,543.3 L610,541.5 L613,539.8 L616,538.2 L618.9,536.7 L621.9,535.4 L624.9,534.3 L627.9,533.5 L630.8,532.8 L633.8,532.2 L636.8,531.6 L639.8,531.2 L642.8,531 L645.7,530.9 L648.7,531 L651.7,531.2 L654.7,531.6 L657.6,532 L660.6,532.5 L663.6,533 L666.6,533.6 L669.5,534.2 L672.5,534.8 L675.5,535.5 L678.5,536.2 L681.4,536.9 L684.4,537.6 L687.4,538.2 L690.4,538.9 L693.3,539.5 L696.3,540 L699.3,540.5 L702.3,540.7 L705.2,540.8 L708.2,540.8 L711.2,540.8 L714.2,540.8 L717.1,540.8 L720.1,540.7 L723.1,540.7 L726.1,540.5 L729,540.3 L732,540.2 L735,540 L738,539.9 L741,539.8 L743.9,539.9 L746.9,540.2 L749.9,540.6 L752.9,541.2 L755.8,541.9 L758.8,542.7 L761.8,543.6 L764.8,544.7 L767.7,545.9 L770.7,547.2 L773.7,548.7 L776.7,550.3 L779.6,551.9 L782.6,553.7 L785.6,555.6 L788.6,557.6 L791.5,559.7 L794.5,561.8 L797.5,563.9 L800.5,566.1 L803.4,568.3 L806.4,570.6 L809.4,572.9 L812.4,575.3 L815.3,577.7 L818.3,580.1 L821.3,582.6 L824.3,585.2 L827.2,587.7 L830.2,590.1 L833.2,592.5 L836.2,594.8 L839.2,597 L842.1,599.3 L845.1,601.4 L848.1,603.5 L851.1,605.4 L854,607.3 L857,609.2 L860,610.9 L863,612.6 L865.9,614.2 L868.9,615.7 L871.9,617 L874.9,618.3 L877.8,619.5 L880.8,620.6 L883.8,621.6 L886.8,622.6 L889.7,623.4 L892.7,624.2 L895.7,624.9 L898.7,625.4 L901.6,626 L904.6,626.4 L907.6,626.8 L910.6,627.2 L913.5,627.5 L916.5,627.8 L919.5,628 L922.5,628.3 L925.4,628.5 L928.4,628.6 L931.4,628.8 L934.4,628.9 L937.3,628.9 L940.3,629 L943.3,629.1 L946.3,629.1 L949.3,629.2 L952.2,629.2 L955.2,629.3 L958.2,629.3 L961.2,629.3 L964.1,629.3 L967.1,629.4 L970.1,629.4 L973.1,629.4 L976,629.4 L979,629.4 L982,629.4 L985,629.4 L987.9,629.5 L990.9,629.5 L993.9,629.5 L996.9,629.5 L999.8,629.5 L1002.8,629.5 L1005.8,629.5 L1008.8,629.5 L1011.7,629.5 L1014.7,629.5 L1017.7,629.6 L1020.7,629.6 L1023.6,629.6 L1026.6,629.6 L1029.6,629.6 L1032.6,629.6 L1035.5,629.6 L1038.5,629.6 L1041.5,629.6 L1041.5,629.6 L330.3,629.6 Z" fill="#6495D3" fill-opacity="0.13" stroke="none"/>
<path d="M330.3,629.6 L333.3,629.6 L336.3,629.6 L339.2,629.5 L342.2,629.5 L345.2,629.5 L348.2,629.4 L351.1,629.4 L354.1,629.3 L357.1,629.2 L360.1,629.2 L363,629.1 L366,629 L369,628.9 L372,628.8 L374.9,628.7 L377.9,628.6 L380.9,628.4 L383.9,628.2 L386.8,628 L389.8,627.8 L392.8,627.5 L395.8,627.2 L398.7,626.9 L401.7,626.5 L404.7,626.1 L407.7,625.7 L410.6,625.2 L413.6,624.7 L416.6,624.1 L419.6,623.5 L422.5,622.8 L425.5,622 L428.5,621.2 L431.5,620.4 L434.5,619.6 L437.4,618.7 L440.4,617.9 L443.4,617 L446.4,616.1 L449.3,615.2 L452.3,614.3 L455.3,613.4 L458.3,612.5 L461.2,611.6 L464.2,610.7 L467.2,609.8 L470.2,608.9 L473.1,608 L476.1,607.1 L479.1,606.2 L482.1,605.4 L485,604.5 L488,603.6 L491,602.7 L494,601.8 L496.9,600.9 L499.9,600 L502.9,599.1 L505.9,598.2 L508.8,597.3 L511.8,596.3 L514.8,595.4 L517.8,594.4 L520.7,593.4 L523.7,592.4 L526.7,591.4 L529.7,590.3 L532.6,589.2 L535.6,588 L538.6,586.8 L541.6,585.6 L544.6,584.3 L547.5,582.8 L550.5,581.3 L553.5,579.7 L556.5,578 L559.4,576.2 L562.4,574.4 L565.4,572.5 L568.4,570.6 L571.3,568.6 L574.3,566.6 L577.3,564.5 L580.3,562.3 L583.2,560.2 L586.2,558.1 L589.2,555.9 L592.2,553.8 L595.1,551.6 L598.1,549.4 L601.1,547.3 L604.1,545.2 L607,543.3 L610,541.5 L613,539.8 L616,538.2 L618.9,536.7 L621.9,535.4 L624.9,534.3 L627.9,533.5 L630.8,532.8 L633.8,532.2 L636.8,531.6 L639.8,531.2 L642.8,531 L645.7,530.9 L648.7,531 L651.7,531.2 L654.7,531.6 L657.6,532 L660.6,532.5 L663.6,533 L666.6,533.6 L669.5,534.2 L672.5,534.8 L675.5,535.5 L678.5,536.2 L681.4,536.9 L684.4,537.6 L687.4,538.2 L690.4,538.9 L693.3,539.5 L696.3,540 L699.3,540.5 L702.3,540.7 L705.2,540.8 L708.2,540.8 L711.2,540.8 L714.2,540.8 L717.1,540.8 L720.1,540.7 L723.1,540.7 L726.1,540.5 L729,540.3 L732,540.2 L735,540 L738,539.9 L741,539.8 L743.9,539.9 L746.9,540.2 L749.9,540.6 L752.9,541.2 L755.8,541.9 L758.8,542.7 L761.8,543.6 L764.8,544.7 L767.7,545.9 L770.7,547.2 L773.7,548.7 L776.7,550.3 L779.6,551.9 L782.6,553.7 L785.6,555.6 L788.6,557.6 L791.5,559.7 L794.5,561.8 L797.5,563.9 L800.5,566.1 L803.4,568.3 L806.4,570.6 L809.4,572.9 L812.4,575.3 L815.3,577.7 L818.3,580.1 L821.3,582.6 L824.3,585.2 L827.2,587.7 L830.2,590.1 L833.2,592.5 L836.2,594.8 L839.2,597 L842.1,599.3 L845.1,601.4 L848.1,603.5 L851.1,605.4 L854,607.3 L857,609.2 L860,610.9 L863,612.6 L865.9,614.2 L868.9,615.7 L871.9,617 L874.9,618.3 L877.8,619.5 L880.8,620.6 L883.8,621.6 L886.8,622.6 L889.7,623.4 L892.7,624.2 L895.7,624.9 L898.7,625.4 L901.6,626 L904.6,626.4 L907.6,626.8 L910.6,627.2 L913.5,627.5 L916.5,627.8 L919.5,628 L922.5,628.3 L925.4,628.5 L928.4,628.6 L931.4,628.8 L934.4,628.9 L937.3,628.9 L940.3,629 L943.3,629.1 L946.3,629.1 L949.3,629.2 L952.2,629.2 L955.2,629.3 L958.2,629.3 L961.2,629.3 L964.1,629.3 L967.1,629.4 L970.1,629.4 L973.1,629.4 L976,629.4 L979,629.4 L982,629.4 L985,629.4 L987.9,629.5 L990.9,629.5 L993.9,629.5 L996.9,629.5 L999.8,629.5 L1002.8,629.5 L1005.8,629.5 L1008.8,629.5 L1011.7,629.5 L1014.7,629.5 L1017.7,629.6 L1020.7,629.6 L1023.6,629.6 L1026.6,629.6 L1029.6,629.6 L1032.6,629.6 L1035.5,629.6 L1038.5,629.6 L1041.5,629.6" fill="none" stroke="#6495D3" stroke-width="1.95" stroke-linejoin="round"/>
</g>
<g>
<path d="M330.3,763.2 L333.3,763.2 L336.3,763.2 L339.2,763.1 L342.2,763.1 L345.2,763.1 L348.2,763 L351.1,762.9 L354.1,762.9 L357.1,762.8 L360.1,762.7 L363,762.6 L366,762.5 L369,762.4 L372,762.3 L374.9,762.2 L377.9,762 L380.9,761.9 L383.9,761.7 L386.8,761.5 L389.8,761.2 L392.8,761 L395.8,760.7 L398.7,760.4 L401.7,760.1 L404.7,759.7 L407.7,759.3 L410.6,758.9 L413.6,758.5 L416.6,758 L419.6,757.4 L422.5,756.7 L425.5,756 L428.5,755.3 L431.5,754.5 L434.5,753.6 L437.4,752.8 L440.4,751.9 L443.4,751 L446.4,750 L449.3,748.9 L452.3,747.9 L455.3,746.7 L458.3,745.6 L461.2,744.3 L464.2,743.1 L467.2,741.7 L470.2,740.3 L473.1,738.9 L476.1,737.3 L479.1,735.7 L482.1,734.1 L485,732.3 L488,730.5 L491,728.6 L494,726.6 L496.9,724.6 L499.9,722.5 L502.9,720.4 L505.9,718.2 L508.8,716 L511.8,713.8 L514.8,711.5 L517.8,709.2 L520.7,707 L523.7,704.8 L526.7,702.6 L529.7,700.5 L532.6,698.3 L535.6,696.2 L538.6,694.2 L541.6,692.4 L544.6,690.7 L547.5,689.1 L550.5,687.6 L553.5,686.2 L556.5,684.9 L559.4,683.7 L562.4,682.6 L565.4,681.7 L568.4,680.9 L571.3,680.1 L574.3,679.4 L577.3,678.8 L580.3,678.2 L583.2,677.9 L586.2,677.6 L589.2,677.6 L592.2,677.7 L595.1,678 L598.1,678.3 L601.1,678.8 L604.1,679.3 L607,679.9 L610,680.5 L613,681.3 L616,682.3 L618.9,683.3 L621.9,684.5 L624.9,685.8 L627.9,687 L630.8,688.3 L633.8,689.5 L636.8,690.8 L639.8,692.1 L642.8,693.4 L645.7,694.6 L648.7,695.7 L651.7,696.5 L654.7,697.3 L657.6,697.9 L660.6,698.5 L663.6,699 L666.6,699.4 L669.5,699.7 L672.5,699.8 L675.5,699.8 L678.5,699.5 L681.4,699.1 L684.4,698.5 L687.4,697.7 L690.4,696.6 L693.3,695.3 L696.3,693.9 L699.3,692.3 L702.3,690.6 L705.2,688.8 L708.2,686.8 L711.2,684.9 L714.2,683.1 L717.1,681.5 L720.1,680.1 L723.1,678.8 L726.1,677.7 L729,676.8 L732,676.1 L735,675.5 L738,675.1 L741,674.8 L743.9,674.7 L746.9,674.8 L749.9,675.2 L752.9,675.9 L755.8,676.8 L758.8,677.8 L761.8,679 L764.8,680.3 L767.7,681.9 L770.7,683.7 L773.7,685.6 L776.7,687.5 L779.6,689.4 L782.6,691.4 L785.6,693.5 L788.6,695.6 L791.5,697.6 L794.5,699.6 L797.5,701.6 L800.5,703.5 L803.4,705.3 L806.4,707.2 L809.4,708.9 L812.4,710.6 L815.3,712.2 L818.3,713.8 L821.3,715.3 L824.3,716.8 L827.2,718.3 L830.2,719.7 L833.2,721.2 L836.2,722.6 L839.2,724.1 L842.1,725.6 L845.1,727.1 L848.1,728.5 L851.1,730 L854,731.5 L857,733.1 L860,734.6 L863,736.2 L865.9,737.8 L868.9,739.4 L871.9,741 L874.9,742.6 L877.8,744.1 L880.8,745.6 L883.8,747.1 L886.8,748.6 L889.7,750.1 L892.7,751.4 L895.7,752.7 L898.7,753.9 L901.6,755 L904.6,756 L907.6,756.9 L910.6,757.8 L913.5,758.5 L916.5,759.1 L919.5,759.6 L922.5,760.1 L925.4,760.5 L928.4,760.9 L931.4,761.2 L934.4,761.5 L937.3,761.7 L940.3,761.9 L943.3,762.1 L946.3,762.2 L949.3,762.3 L952.2,762.4 L955.2,762.5 L958.2,762.5 L961.2,762.6 L964.1,762.6 L967.1,762.7 L970.1,762.7 L973.1,762.8 L976,762.8 L979,762.8 L982,762.9 L985,762.9 L987.9,762.9 L990.9,762.9 L993.9,763 L996.9,763 L999.8,763 L1002.8,763 L1005.8,763.1 L1008.8,763.1 L1011.7,763.1 L1014.7,763.1 L1017.7,763.1 L1020.7,763.2 L1023.6,763.2 L1026.6,763.2 L1029.6,763.2 L1032.6,763.2 L1035.5,763.2 L1038.5,763.2 L1041.5,763.2 L1041.5,763.2 L330.3,763.2 Z" fill="#7592D8" fill-opacity="0.13" stroke="none"/>
<path d="M330.3,763.2 L333.3,763.2 L336.3,763.2 L339.2,763.1 L342.2,763.1 L345.2,763.1 L348.2,763 L351.1,762.9 L354.1,762.9 L357.1,762.8 L360.1,762.7 L363,762.6 L366,762.5 L369,762.4 L372,762.3 L374.9,762.2 L377.9,762 L380.9,761.9 L383.9,761.7 L386.8,761.5 L389.8,761.2 L392.8,761 L395.8,760.7 L398.7,760.4 L401.7,760.1 L404.7,759.7 L407.7,759.3 L410.6,758.9 L413.6,758.5 L416.6,758 L419.6,757.4 L422.5,756.7 L425.5,756 L428.5,755.3 L431.5,754.5 L434.5,753.6 L437.4,752.8 L440.4,751.9 L443.4,751 L446.4,750 L449.3,748.9 L452.3,747.9 L455.3,746.7 L458.3,745.6 L461.2,744.3 L464.2,743.1 L467.2,741.7 L470.2,740.3 L473.1,738.9 L476.1,737.3 L479.1,735.7 L482.1,734.1 L485,732.3 L488,730.5 L491,728.6 L494,726.6 L496.9,724.6 L499.9,722.5 L502.9,720.4 L505.9,718.2 L508.8,716 L511.8,713.8 L514.8,711.5 L517.8,709.2 L520.7,707 L523.7,704.8 L526.7,702.6 L529.7,700.5 L532.6,698.3 L535.6,696.2 L538.6,694.2 L541.6,692.4 L544.6,690.7 L547.5,689.1 L550.5,687.6 L553.5,686.2 L556.5,684.9 L559.4,683.7 L562.4,682.6 L565.4,681.7 L568.4,680.9 L571.3,680.1 L574.3,679.4 L577.3,678.8 L580.3,678.2 L583.2,677.9 L586.2,677.6 L589.2,677.6 L592.2,677.7 L595.1,678 L598.1,678.3 L601.1,678.8 L604.1,679.3 L607,679.9 L610,680.5 L613,681.3 L616,682.3 L618.9,683.3 L621.9,684.5 L624.9,685.8 L627.9,687 L630.8,688.3 L633.8,689.5 L636.8,690.8 L639.8,692.1 L642.8,693.4 L645.7,694.6 L648.7,695.7 L651.7,696.5 L654.7,697.3 L657.6,697.9 L660.6,698.5 L663.6,699 L666.6,699.4 L669.5,699.7 L672.5,699.8 L675.5,699.8 L678.5,699.5 L681.4,699.1 L684.4,698.5 L687.4,697.7 L690.4,696.6 L693.3,695.3 L696.3,693.9 L699.3,692.3 L702.3,690.6 L705.2,688.8 L708.2,686.8 L711.2,684.9 L714.2,683.1 L717.1,681.5 L720.1,680.1 L723.1,678.8 L726.1,677.7 L729,676.8 L732,676.1 L735,675.5 L738,675.1 L741,674.8 L743.9,674.7 L746.9,674.8 L749.9,675.2 L752.9,675.9 L755.8,676.8 L758.8,677.8 L761.8,679 L764.8,680.3 L767.7,681.9 L770.7,683.7 L773.7,685.6 L776.7,687.5 L779.6,689.4 L782.6,691.4 L785.6,693.5 L788.6,695.6 L791.5,697.6 L794.5,699.6 L797.5,701.6 L800.5,703.5 L803.4,705.3 L806.4,707.2 L809.4,708.9 L812.4,710.6 L815.3,712.2 L818.3,713.8 L821.3,715.3 L824.3,716.8 L827.2,718.3 L830.2,719.7 L833.2,721.2 L836.2,722.6 L839.2,724.1 L842.1,725.6 L845.1,727.1 L848.1,728.5 L851.1,730 L854,731.5 L857,733.1 L860,734.6 L863,736.2 L865.9,737.8 L868.9,739.4 L871.9,741 L874.9,742.6 L877.8,744.1 L880.8,745.6 L883.8,747.1 L886.8,748.6 L889.7,750.1 L892.7,751.4 L895.7,752.7 L898.7,753.9 L901.6,755 L904.6,756 L907.6,756.9 L910.6,757.8 L913.5,758.5 L916.5,759.1 L919.5,759.6 L922.5,760.1 L925.4,760.5 L928.4,760.9 L931.4,761.2 L934.4,761.5 L937.3,761.7 L940.3,761.9 L943.3,762.1 L946.3,762.2 L949.3,762.3 L952.2,762.4 L955.2,762.5 L958.2,762.5 L961.2,762.6 L964.1,762.6 L967.1,762.7 L970.1,762.7 L973.1,762.8 L976,762.8 L979,762.8 L982,762.9 L985,762.9 L987.9,762.9 L990.9,762.9 L993.9,763 L996.9,763 L999.8,763 L1002.8,763 L1005.8,763.1 L1008.8,763.1 L1011.7,763.1 L1014.7,763.1 L1017.7,763.1 L1020.7,763.2 L1023.6,763.2 L1026.6,763.2 L1029.6,763.2 L1032.6,763.2 L1035.5,763.2 L1038.5,763.2 L1041.5,763.2" fill="none" stroke="#7592D8" stroke-width="1.95" stroke-linejoin="round"/>
</g>
<g>
<path d="M330.3,896.8 L333.3,896.8 L336.3,896.8 L339.2,896.8 L342.2,896.7 L345.2,896.7 L348.2,896.6 L351.1,896.6 L354.1,896.5 L357.1,896.5 L360.1,896.4 L363,896.3 L366,896.2 L369,896.1 L372,896 L374.9,895.9 L377.9,895.8 L380.9,895.7 L383.9,895.5 L386.8,895.3 L389.8,895.1 L392.8,894.9 L395.8,894.6 L398.7,894.4 L401.7,894 L404.7,893.7 L407.7,893.3 L410.6,892.9 L413.6,892.4 L416.6,891.9 L419.6,891.4 L422.5,890.7 L425.5,890 L428.5,889.3 L431.5,888.5 L434.5,887.6 L437.4,886.8 L440.4,885.9 L443.4,884.9 L446.4,883.9 L449.3,882.9 L452.3,881.8 L455.3,880.7 L458.3,879.6 L461.2,878.4 L464.2,877.2 L467.2,875.9 L470.2,874.7 L473.1,873.4 L476.1,872 L479.1,870.7 L482.1,869.4 L485,868 L488,866.7 L491,865.3 L494,863.9 L496.9,862.5 L499.9,861 L502.9,859.5 L505.9,857.8 L508.8,856.2 L511.8,854.4 L514.8,852.6 L517.8,850.8 L520.7,848.9 L523.7,846.9 L526.7,844.9 L529.7,842.8 L532.6,840.6 L535.6,838.4 L538.6,836.2 L541.6,834 L544.6,831.7 L547.5,829.4 L550.5,827.1 L553.5,824.8 L556.5,822.5 L559.4,820.2 L562.4,818.1 L565.4,816.1 L568.4,814.1 L571.3,812.3 L574.3,810.5 L577.3,808.8 L580.3,807.3 L583.2,805.9 L586.2,804.8 L589.2,803.9 L592.2,803.2 L595.1,802.5 L598.1,801.9 L601.1,801.5 L604.1,801.2 L607,801.1 L610,801.1 L613,801.3 L616,801.6 L618.9,801.9 L621.9,802.3 L624.9,802.7 L627.9,803.2 L630.8,803.8 L633.8,804.4 L636.8,805.2 L639.8,806 L642.8,806.8 L645.7,807.7 L648.7,808.5 L651.7,809.4 L654.7,810.3 L657.6,811.2 L660.6,812.1 L663.6,813.1 L666.6,814 L669.5,815 L672.5,816 L675.5,816.9 L678.5,818 L681.4,819 L684.4,820.1 L687.4,821.2 L690.4,822.4 L693.3,823.7 L696.3,824.9 L699.3,826.2 L702.3,827.5 L705.2,828.8 L708.2,830 L711.2,831.3 L714.2,832.6 L717.1,833.9 L720.1,835.1 L723.1,836.2 L726.1,837.2 L729,838.1 L732,839 L735,839.7 L738,840.5 L741,841.1 L743.9,841.6 L746.9,841.9 L749.9,842.1 L752.9,842.1 L755.8,842.1 L758.8,842.1 L761.8,842.1 L764.8,842.1 L767.7,842.1 L770.7,842.1 L773.7,842 L776.7,841.9 L779.6,841.7 L782.6,841.5 L785.6,841.3 L788.6,841.2 L791.5,841.1 L794.5,841.2 L797.5,841.3 L800.5,841.6 L803.4,842 L806.4,842.4 L809.4,842.8 L812.4,843.4 L815.3,844.1 L818.3,844.9 L821.3,845.8 L824.3,846.8 L827.2,847.8 L830.2,849 L833.2,850.2 L836.2,851.5 L839.2,852.9 L842.1,854.3 L845.1,855.7 L848.1,857.2 L851.1,858.6 L854,860 L857,861.4 L860,862.9 L863,864.3 L865.9,865.7 L868.9,867.2 L871.9,868.6 L874.9,870 L877.8,871.5 L880.8,872.9 L883.8,874.2 L886.8,875.6 L889.7,876.9 L892.7,878.2 L895.7,879.4 L898.7,880.6 L901.6,881.8 L904.6,883 L907.6,884.1 L910.6,885.1 L913.5,886.2 L916.5,887.1 L919.5,888.1 L922.5,889 L925.4,889.8 L928.4,890.6 L931.4,891.4 L934.4,892 L937.3,892.5 L940.3,893 L943.3,893.5 L946.3,893.9 L949.3,894.3 L952.2,894.6 L955.2,894.9 L958.2,895.1 L961.2,895.4 L964.1,895.5 L967.1,895.7 L970.1,895.8 L973.1,895.9 L976,896 L979,896.1 L982,896.2 L985,896.2 L987.9,896.3 L990.9,896.3 L993.9,896.4 L996.9,896.4 L999.8,896.5 L1002.8,896.5 L1005.8,896.5 L1008.8,896.6 L1011.7,896.6 L1014.7,896.6 L1017.7,896.7 L1020.7,896.7 L1023.6,896.7 L1026.6,896.7 L1029.6,896.8 L1032.6,896.8 L1035.5,896.8 L1038.5,896.8 L1041.5,896.8 L1041.5,896.8 L330.3,896.8 Z" fill="#7A92D8" fill-opacity="0.13" stroke="none"/>
<path d="M330.3,896.8 L333.3,896.8 L336.3,896.8 L339.2,896.8 L342.2,896.7 L345.2,896.7 L348.2,896.6 L351.1,896.6 L354.1,896.5 L357.1,896.5 L360.1,896.4 L363,896.3 L366,896.2 L369,896.1 L372,896 L374.9,895.9 L377.9,895.8 L380.9,895.7 L383.9,895.5 L386.8,895.3 L389.8,895.1 L392.8,894.9 L395.8,894.6 L398.7,894.4 L401.7,894 L404.7,893.7 L407.7,893.3 L410.6,892.9 L413.6,892.4 L416.6,891.9 L419.6,891.4 L422.5,890.7 L425.5,890 L428.5,889.3 L431.5,888.5 L434.5,887.6 L437.4,886.8 L440.4,885.9 L443.4,884.9 L446.4,883.9 L449.3,882.9 L452.3,881.8 L455.3,880.7 L458.3,879.6 L461.2,878.4 L464.2,877.2 L467.2,875.9 L470.2,874.7 L473.1,873.4 L476.1,872 L479.1,870.7 L482.1,869.4 L485,868 L488,866.7 L491,865.3 L494,863.9 L496.9,862.5 L499.9,861 L502.9,859.5 L505.9,857.8 L508.8,856.2 L511.8,854.4 L514.8,852.6 L517.8,850.8 L520.7,848.9 L523.7,846.9 L526.7,844.9 L529.7,842.8 L532.6,840.6 L535.6,838.4 L538.6,836.2 L541.6,834 L544.6,831.7 L547.5,829.4 L550.5,827.1 L553.5,824.8 L556.5,822.5 L559.4,820.2 L562.4,818.1 L565.4,816.1 L568.4,814.1 L571.3,812.3 L574.3,810.5 L577.3,808.8 L580.3,807.3 L583.2,805.9 L586.2,804.8 L589.2,803.9 L592.2,803.2 L595.1,802.5 L598.1,801.9 L601.1,801.5 L604.1,801.2 L607,801.1 L610,801.1 L613,801.3 L616,801.6 L618.9,801.9 L621.9,802.3 L624.9,802.7 L627.9,803.2 L630.8,803.8 L633.8,804.4 L636.8,805.2 L639.8,806 L642.8,806.8 L645.7,807.7 L648.7,808.5 L651.7,809.4 L654.7,810.3 L657.6,811.2 L660.6,812.1 L663.6,813.1 L666.6,814 L669.5,815 L672.5,816 L675.5,816.9 L678.5,818 L681.4,819 L684.4,820.1 L687.4,821.2 L690.4,822.4 L693.3,823.7 L696.3,824.9 L699.3,826.2 L702.3,827.5 L705.2,828.8 L708.2,830 L711.2,831.3 L714.2,832.6 L717.1,833.9 L720.1,835.1 L723.1,836.2 L726.1,837.2 L729,838.1 L732,839 L735,839.7 L738,840.5 L741,841.1 L743.9,841.6 L746.9,841.9 L749.9,842.1 L752.9,842.1 L755.8,842.1 L758.8,842.1 L761.8,842.1 L764.8,842.1 L767.7,842.1 L770.7,842.1 L773.7,842 L776.7,841.9 L779.6,841.7 L782.6,841.5 L785.6,841.3 L788.6,841.2 L791.5,841.1 L794.5,841.2 L797.5,841.3 L800.5,841.6 L803.4,842 L806.4,842.4 L809.4,842.8 L812.4,843.4 L815.3,844.1 L818.3,844.9 L821.3,845.8 L824.3,846.8 L827.2,847.8 L830.2,849 L833.2,850.2 L836.2,851.5 L839.2,852.9 L842.1,854.3 L845.1,855.7 L848.1,857.2 L851.1,858.6 L854,860 L857,861.4 L860,862.9 L863,864.3 L865.9,865.7 L868.9,867.2 L871.9,868.6 L874.9,870 L877.8,871.5 L880.8,872.9 L883.8,874.2 L886.8,875.6 L889.7,876.9 L892.7,878.2 L895.7,879.4 L898.7,880.6 L901.6,881.8 L904.6,883 L907.6,884.1 L910.6,885.1 L913.5,886.2 L916.5,887.1 L919.5,888.1 L922.5,889 L925.4,889.8 L928.4,890.6 L931.4,891.4 L934.4,892 L937.3,892.5 L940.3,893 L943.3,893.5 L946.3,893.9 L949.3,894.3 L952.2,894.6 L955.2,894.9 L958.2,895.1 L961.2,895.4 L964.1,895.5 L967.1,895.7 L970.1,895.8 L973.1,895.9 L976,896 L979,896.1 L982,896.2 L985,896.2 L987.9,896.3 L990.9,896.3 L993.9,896.4 L996.9,896.4 L999.8,896.5 L1002.8,896.5 L1005.8,896.5 L1008.8,896.6 L1011.7,896.6 L1014.7,896.6 L1017.7,896.7 L1020.7,896.7 L1023.6,896.7 L1026.6,896.7 L1029.6,896.8 L1032.6,896.8 L1035.5,896.8 L1038.5,896.8 L1041.5,896.8" fill="none" stroke="#7A92D8" stroke-width="1.95" stroke-linejoin="round"/>
</g>
<g>
<path d="M330.3,1030.4 L333.3,1030.4 L336.3,1030.4 L339.2,1030.3 L342.2,1030.2 L345.2,1030.2 L348.2,1030.1 L351.1,1030 L354.1,1029.8 L357.1,1029.7 L360.1,1029.6 L363,1029.4 L366,1029.3 L369,1029.1 L372,1028.9 L374.9,1028.7 L377.9,1028.4 L380.9,1028.1 L383.9,1027.8 L386.8,1027.5 L389.8,1027.1 L392.8,1026.7 L395.8,1026.3 L398.7,1025.8 L401.7,1025.3 L404.7,1024.6 L407.7,1023.9 L410.6,1023.1 L413.6,1022.3 L416.6,1021.4 L419.6,1020.5 L422.5,1019.5 L425.5,1018.5 L428.5,1017.5 L431.5,1016.5 L434.5,1015.4 L437.4,1014.4 L440.4,1013.2 L443.4,1012.1 L446.4,1010.9 L449.3,1009.7 L452.3,1008.5 L455.3,1007.2 L458.3,1005.9 L461.2,1004.5 L464.2,1003.1 L467.2,1001.6 L470.2,1000.1 L473.1,998.4 L476.1,996.7 L479.1,995 L482.1,993.1 L485,991.2 L488,989.2 L491,987.1 L494,985 L496.9,982.7 L499.9,980.3 L502.9,977.8 L505.9,975.3 L508.8,972.8 L511.8,970.2 L514.8,967.6 L517.8,964.9 L520.7,962.1 L523.7,959.4 L526.7,956.7 L529.7,954.2 L532.6,951.8 L535.6,949.6 L538.6,947.5 L541.6,945.5 L544.6,943.7 L547.5,942.1 L550.5,940.9 L553.5,939.9 L556.5,939.1 L559.4,938.5 L562.4,938 L565.4,937.8 L568.4,937.9 L571.3,938.2 L574.3,938.7 L577.3,939.4 L580.3,940.2 L583.2,941.2 L586.2,942.4 L589.2,943.9 L592.2,945.5 L595.1,947.3 L598.1,949.2 L601.1,951.1 L604.1,953.1 L607,955.3 L610,957.5 L613,959.6 L616,961.7 L618.9,963.7 L621.9,965.5 L624.9,967.2 L627.9,968.8 L630.8,970.4 L633.8,971.9 L636.8,973.2 L639.8,974.4 L642.8,975.5 L645.7,976.6 L648.7,977.6 L651.7,978.5 L654.7,979.3 L657.6,980 L660.6,980.5 L663.6,980.9 L666.6,981.2 L669.5,981.5 L672.5,981.7 L675.5,981.9 L678.5,982 L681.4,982.1 L684.4,982.1 L687.4,982.1 L690.4,982 L693.3,981.9 L696.3,981.7 L699.3,981.5 L702.3,981.3 L705.2,981 L708.2,980.6 L711.2,980.1 L714.2,979.4 L717.1,978.6 L720.1,977.7 L723.1,976.7 L726.1,975.7 L729,974.6 L732,973.5 L735,972.2 L738,970.8 L741,969.4 L743.9,968 L746.9,966.6 L749.9,965.2 L752.9,963.8 L755.8,962.4 L758.8,960.9 L761.8,959.6 L764.8,958.2 L767.7,957 L770.7,955.9 L773.7,954.8 L776.7,953.8 L779.6,952.9 L782.6,952.1 L785.6,951.5 L788.6,951.1 L791.5,950.9 L794.5,950.7 L797.5,950.6 L800.5,950.6 L803.4,950.8 L806.4,951.3 L809.4,951.9 L812.4,952.8 L815.3,953.9 L818.3,955.2 L821.3,956.8 L824.3,958.7 L827.2,960.8 L830.2,963.1 L833.2,965.6 L836.2,968.3 L839.2,971.3 L842.1,974.4 L845.1,977.5 L848.1,980.7 L851.1,983.9 L854,987.2 L857,990.4 L860,993.6 L863,996.6 L865.9,999.5 L868.9,1002.2 L871.9,1004.8 L874.9,1007.2 L877.8,1009.5 L880.8,1011.6 L883.8,1013.6 L886.8,1015.4 L889.7,1017.1 L892.7,1018.6 L895.7,1020 L898.7,1021.3 L901.6,1022.4 L904.6,1023.5 L907.6,1024.4 L910.6,1025.3 L913.5,1026 L916.5,1026.5 L919.5,1027 L922.5,1027.5 L925.4,1027.9 L928.4,1028.2 L931.4,1028.5 L934.4,1028.7 L937.3,1029 L940.3,1029.2 L943.3,1029.3 L946.3,1029.5 L949.3,1029.6 L952.2,1029.7 L955.2,1029.8 L958.2,1029.9 L961.2,1030 L964.1,1030 L967.1,1030.1 L970.1,1030.1 L973.1,1030.2 L976,1030.2 L979,1030.2 L982,1030.2 L985,1030.3 L987.9,1030.3 L990.9,1030.3 L993.9,1030.3 L996.9,1030.3 L999.8,1030.3 L1002.8,1030.4 L1005.8,1030.4 L1008.8,1030.4 L1011.7,1030.4 L1014.7,1030.4 L1017.7,1030.4 L1020.7,1030.4 L1023.6,1030.4 L1026.6,1030.4 L1029.6,1030.4 L1032.6,1030.4 L1035.5,1030.4 L1038.5,1030.4 L1041.5,1030.4 L1041.5,1030.4 L330.3,1030.4 Z" fill="#8E87DB" fill-opacity="0.13" stroke="none"/>
<path d="M330.3,1030.4 L333.3,1030.4 L336.3,1030.4 L339.2,1030.3 L342.2,1030.2 L345.2,1030.2 L348.2,1030.1 L351.1,1030 L354.1,1029.8 L357.1,1029.7 L360.1,1029.6 L363,1029.4 L366,1029.3 L369,1029.1 L372,1028.9 L374.9,1028.7 L377.9,1028.4 L380.9,1028.1 L383.9,1027.8 L386.8,1027.5 L389.8,1027.1 L392.8,1026.7 L395.8,1026.3 L398.7,1025.8 L401.7,1025.3 L404.7,1024.6 L407.7,1023.9 L410.6,1023.1 L413.6,1022.3 L416.6,1021.4 L419.6,1020.5 L422.5,1019.5 L425.5,1018.5 L428.5,1017.5 L431.5,1016.5 L434.5,1015.4 L437.4,1014.4 L440.4,1013.2 L443.4,1012.1 L446.4,1010.9 L449.3,1009.7 L452.3,1008.5 L455.3,1007.2 L458.3,1005.9 L461.2,1004.5 L464.2,1003.1 L467.2,1001.6 L470.2,1000.1 L473.1,998.4 L476.1,996.7 L479.1,995 L482.1,993.1 L485,991.2 L488,989.2 L491,987.1 L494,985 L496.9,982.7 L499.9,980.3 L502.9,977.8 L505.9,975.3 L508.8,972.8 L511.8,970.2 L514.8,967.6 L517.8,964.9 L520.7,962.1 L523.7,959.4 L526.7,956.7 L529.7,954.2 L532.6,951.8 L535.6,949.6 L538.6,947.5 L541.6,945.5 L544.6,943.7 L547.5,942.1 L550.5,940.9 L553.5,939.9 L556.5,939.1 L559.4,938.5 L562.4,938 L565.4,937.8 L568.4,937.9 L571.3,938.2 L574.3,938.7 L577.3,939.4 L580.3,940.2 L583.2,941.2 L586.2,942.4 L589.2,943.9 L592.2,945.5 L595.1,947.3 L598.1,949.2 L601.1,951.1 L604.1,953.1 L607,955.3 L610,957.5 L613,959.6 L616,961.7 L618.9,963.7 L621.9,965.5 L624.9,967.2 L627.9,968.8 L630.8,970.4 L633.8,971.9 L636.8,973.2 L639.8,974.4 L642.8,975.5 L645.7,976.6 L648.7,977.6 L651.7,978.5 L654.7,979.3 L657.6,980 L660.6,980.5 L663.6,980.9 L666.6,981.2 L669.5,981.5 L672.5,981.7 L675.5,981.9 L678.5,982 L681.4,982.1 L684.4,982.1 L687.4,982.1 L690.4,982 L693.3,981.9 L696.3,981.7 L699.3,981.5 L702.3,981.3 L705.2,981 L708.2,980.6 L711.2,980.1 L714.2,979.4 L717.1,978.6 L720.1,977.7 L723.1,976.7 L726.1,975.7 L729,974.6 L732,973.5 L735,972.2 L738,970.8 L741,969.4 L743.9,968 L746.9,966.6 L749.9,965.2 L752.9,963.8 L755.8,962.4 L758.8,960.9 L761.8,959.6 L764.8,958.2 L767.7,957 L770.7,955.9 L773.7,954.8 L776.7,953.8 L779.6,952.9 L782.6,952.1 L785.6,951.5 L788.6,951.1 L791.5,950.9 L794.5,950.7 L797.5,950.6 L800.5,950.6 L803.4,950.8 L806.4,951.3 L809.4,951.9 L812.4,952.8 L815.3,953.9 L818.3,955.2 L821.3,956.8 L824.3,958.7 L827.2,960.8 L830.2,963.1 L833.2,965.6 L836.2,968.3 L839.2,971.3 L842.1,974.4 L845.1,977.5 L848.1,980.7 L851.1,983.9 L854,987.2 L857,990.4 L860,993.6 L863,996.6 L865.9,999.5 L868.9,1002.2 L871.9,1004.8 L874.9,1007.2 L877.8,1009.5 L880.8,1011.6 L883.8,1013.6 L886.8,1015.4 L889.7,1017.1 L892.7,1018.6 L895.7,1020 L898.7,1021.3 L901.6,1022.4 L904.6,1023.5 L907.6,1024.4 L910.6,1025.3 L913.5,1026 L916.5,1026.5 L919.5,1027 L922.5,1027.5 L925.4,1027.9 L928.4,1028.2 L931.4,1028.5 L934.4,1028.7 L937.3,1029 L940.3,1029.2 L943.3,1029.3 L946.3,1029.5 L949.3,1029.6 L952.2,1029.7 L955.2,1029.8 L958.2,1029.9 L961.2,1030 L964.1,1030 L967.1,1030.1 L970.1,1030.1 L973.1,1030.2 L976,1030.2 L979,1030.2 L982,1030.2 L985,1030.3 L987.9,1030.3 L990.9,1030.3 L993.9,1030.3 L996.9,1030.3 L999.8,1030.3 L1002.8,1030.4 L1005.8,1030.4 L1008.8,1030.4 L1011.7,1030.4 L1014.7,1030.4 L1017.7,1030.4 L1020.7,1030.4 L1023.6,1030.4 L1026.6,1030.4 L1029.6,1030.4 L1032.6,1030.4 L1035.5,1030.4 L1038.5,1030.4 L1041.5,1030.4" fill="none" stroke="#8E87DB" stroke-width="1.95" stroke-linejoin="round"/>
</g>
<g fill="#B4D924" fill-opacity="0.6">
<circle cx="444.9" cy="104.4" r="8.25"/>
<circle cx="461.2" cy="101.8" r="8.25"/>
<circle cx="473.9" cy="87.9" r="8.25"/>
<circle cx="478.6" cy="91.7" r="8.25"/>
<circle cx="517.1" cy="83.1" r="8.25"/>
<circle cx="529.4" cy="86.1" r="8.25"/>
<circle cx="542.2" cy="85.7" r="8.25"/>
<circle cx="552.5" cy="87.9" r="8.25"/>
<circle cx="554" cy="92.6" r="8.25"/>
<circle cx="518.6" cy="106.5" r="8.25"/>
<circle cx="526.1" cy="113.6" r="8.25"/>
<circle cx="539.6" cy="104.4" r="8.25"/>
<circle cx="542.9" cy="100.7" r="8.25"/>
<circle cx="552.5" cy="103.3" r="8.25"/>
<circle cx="595.8" cy="81" r="8.25"/>
<circle cx="616.1" cy="88.3" r="8.25"/>
<circle cx="635.4" cy="82.1" r="8.25"/>
<circle cx="646.4" cy="80.4" r="8.25"/>
<circle cx="648.9" cy="95.4" r="8.25"/>
<circle cx="632.9" cy="98.6" r="8.25"/>
<circle cx="593.2" cy="101.1" r="8.25"/>
<circle cx="598.6" cy="105" r="8.25"/>
<circle cx="585.7" cy="114.6" r="8.25"/>
<circle cx="614" cy="106.5" r="8.25"/>
<circle cx="616.8" cy="100.3" r="8.25"/>
<circle cx="623.2" cy="102.4" r="8.25"/>
<circle cx="627.9" cy="109.7" r="8.25"/>
<circle cx="676.8" cy="76.1" r="8.25"/>
<circle cx="665.4" cy="111.4" r="8.25"/>
<circle cx="680" cy="110.4" r="8.25"/>
<circle cx="682.1" cy="94.3" r="8.25"/>
<circle cx="690.4" cy="77.6" r="8.25"/>
<circle cx="687.1" cy="87.9" r="8.25"/>
<circle cx="693.6" cy="94.3" r="8.25"/>
<circle cx="697.9" cy="110.4" r="8.25"/>
<circle cx="717.1" cy="114.6" r="8.25"/>
<circle cx="719.3" cy="79.3" r="8.25"/>
<circle cx="731.1" cy="75" r="8.25"/>
<circle cx="725.7" cy="83.6" r="8.25"/>
<circle cx="736.4" cy="81.4" r="8.25"/>
<circle cx="741.8" cy="80.4" r="8.25"/>
<circle cx="749.3" cy="83.6" r="8.25"/>
<circle cx="731.1" cy="95.4" r="8.25"/>
<circle cx="743.9" cy="100.7" r="8.25"/>
<circle cx="761.1" cy="106.1" r="8.25"/>
<circle cx="761.7" cy="112.9" r="8.25"/>
<circle cx="769.6" cy="92.6" r="8.25"/>
<circle cx="772.9" cy="81.4" r="8.25"/>
<circle cx="786.8" cy="109.9" r="8.25"/>
<circle cx="805" cy="77.6" r="8.25"/>
<circle cx="818.9" cy="82.5" r="8.25"/>
<circle cx="828.6" cy="82.1" r="8.25"/>
<circle cx="810.4" cy="96.9" r="8.25"/>
<circle cx="824.3" cy="100.7" r="8.25"/>
<circle cx="830.7" cy="106.5" r="8.25"/>
<circle cx="848.9" cy="85.1" r="8.25"/>
<circle cx="845.7" cy="87.9" r="8.25"/>
<circle cx="854.3" cy="91.1" r="8.25"/>
<circle cx="845.3" cy="113.1" r="8.25"/>
<circle cx="868.6" cy="106.1" r="8.25"/>
<circle cx="880.4" cy="83.6" r="8.25"/>
<circle cx="900.4" cy="77.6" r="8.25"/>
<circle cx="904.6" cy="92.6" r="8.25"/>
<circle cx="899.3" cy="107.8" r="8.25"/>
<circle cx="890.7" cy="114.6" r="8.25"/>
<circle cx="926.1" cy="78.9" r="8.25"/>
<circle cx="669.7" cy="98.9" r="8.25"/>
<circle cx="767" cy="82.9" r="8.25"/>
<circle cx="830.9" cy="95.9" r="8.25"/>
<circle cx="542.3" cy="82" r="8.25"/>
<circle cx="549.9" cy="92" r="8.25"/>
<circle cx="540.1" cy="101.7" r="8.25"/>
<circle cx="620.4" cy="98.6" r="8.25"/>
<circle cx="619.4" cy="100.9" r="8.25"/>
<circle cx="680.8" cy="111.5" r="8.25"/>
<circle cx="682.7" cy="85.5" r="8.25"/>
<circle cx="744.7" cy="81.9" r="8.25"/>
<circle cx="750" cy="83.8" r="8.25"/>
<circle cx="765.9" cy="103" r="8.25"/>
</g>
<g fill="#000" fill-opacity="0.6">
<circle cx="670.4" cy="100.3" r="8.25"/>
<circle cx="766.4" cy="84.6" r="8.25"/>
<circle cx="830.7" cy="96.4" r="8.25"/>
</g>
<g fill="#3DB586" fill-opacity="0.6">
<circle cx="505.8" cy="212.4" r="8.25"/>
<circle cx="494.2" cy="227.9" r="8.25"/>
<circle cx="539" cy="233.2" r="8.25"/>
<circle cx="538.6" cy="240.7" r="8.25"/>
<circle cx="539" cy="246.1" r="8.25"/>
<circle cx="562.6" cy="223.6" r="8.25"/>
<circle cx="564.9" cy="231.5" r="8.25"/>
<circle cx="589.6" cy="238.6" r="8.25"/>
<circle cx="594.3" cy="220.4" r="8.25"/>
<circle cx="600.7" cy="217.1" r="8.25"/>
<circle cx="607.1" cy="216.1" r="8.25"/>
<circle cx="605" cy="223.6" r="8.25"/>
<circle cx="611.4" cy="225.7" r="8.25"/>
<circle cx="618.9" cy="209.6" r="8.25"/>
<circle cx="623.2" cy="216.1" r="8.25"/>
<circle cx="600.7" cy="235.4" r="8.25"/>
<circle cx="608.2" cy="243.9" r="8.25"/>
<circle cx="618.9" cy="248.2" r="8.25"/>
<circle cx="622.1" cy="236.4" r="8.25"/>
<circle cx="631.8" cy="234.7" r="8.25"/>
<circle cx="637.1" cy="243.9" r="8.25"/>
<circle cx="650" cy="208.6" r="8.25"/>
<circle cx="655.4" cy="212.9" r="8.25"/>
<circle cx="665" cy="210.7" r="8.25"/>
<circle cx="659.6" cy="234.3" r="8.25"/>
<circle cx="671.4" cy="221.4" r="8.25"/>
<circle cx="676.8" cy="212.9" r="8.25"/>
<circle cx="675.7" cy="230" r="8.25"/>
<circle cx="680" cy="238.6" r="8.25"/>
<circle cx="691.4" cy="212.9" r="8.25"/>
<circle cx="687.1" cy="219.3" r="8.25"/>
<circle cx="702.1" cy="215" r="8.25"/>
<circle cx="693.6" cy="230" r="8.25"/>
<circle cx="693.6" cy="240.7" r="8.25"/>
<circle cx="724.6" cy="225.1" r="8.25"/>
<circle cx="711.8" cy="237.5" r="8.25"/>
<circle cx="718.2" cy="247.1" r="8.25"/>
<circle cx="732.1" cy="238.6" r="8.25"/>
<circle cx="735.8" cy="209.6" r="8.25"/>
<circle cx="749.3" cy="210.3" r="8.25"/>
<circle cx="755.7" cy="210.3" r="8.25"/>
<circle cx="742.9" cy="221.4" r="8.25"/>
<circle cx="749.3" cy="219.3" r="8.25"/>
<circle cx="743.9" cy="226.8" r="8.25"/>
<circle cx="747.1" cy="236.4" r="8.25"/>
<circle cx="749.3" cy="246.1" r="8.25"/>
<circle cx="771.8" cy="209.6" r="8.25"/>
<circle cx="762.1" cy="233.2" r="8.25"/>
<circle cx="771.8" cy="235.4" r="8.25"/>
<circle cx="776.1" cy="242.9" r="8.25"/>
<circle cx="788.9" cy="234.3" r="8.25"/>
<circle cx="791.1" cy="240.7" r="8.25"/>
<circle cx="803.9" cy="225.7" r="8.25"/>
<circle cx="817.9" cy="236.4" r="8.25"/>
<circle cx="815.7" cy="226.8" r="8.25"/>
<circle cx="821.1" cy="222.5" r="8.25"/>
<circle cx="829.6" cy="222.5" r="8.25"/>
<circle cx="832.9" cy="219.3" r="8.25"/>
<circle cx="848.3" cy="231.1" r="8.25"/>
<circle cx="766.4" cy="224.3" r="8.25"/>
<circle cx="602.4" cy="219.3" r="8.25"/>
<circle cx="677.7" cy="231.2" r="8.25"/>
<circle cx="686" cy="220.6" r="8.25"/>
<circle cx="701.8" cy="212.3" r="8.25"/>
<circle cx="689.2" cy="232.1" r="8.25"/>
<circle cx="729.6" cy="237.7" r="8.25"/>
<circle cx="748.8" cy="210.7" r="8.25"/>
<circle cx="743.1" cy="225.7" r="8.25"/>
<circle cx="768.5" cy="233.2" r="8.25"/>
<circle cx="775.9" cy="243.6" r="8.25"/>
<circle cx="784" cy="233.6" r="8.25"/>
</g>
<g fill="#000" fill-opacity="0.6">
<circle cx="717.1" cy="216.5" r="8.25"/>
<circle cx="765.4" cy="225.7" r="8.25"/>
<circle cx="806.1" cy="246.1" r="8.25"/>
</g>
<g fill="#4CBBA5" fill-opacity="0.6">
<circle cx="492.1" cy="343.7" r="8.25"/>
<circle cx="506" cy="357.6" r="8.25"/>
<circle cx="502.8" cy="369.4" r="8.25"/>
<circle cx="514.6" cy="374.1" r="8.25"/>
<circle cx="536" cy="361.9" r="8.25"/>
<circle cx="542.9" cy="379.1" r="8.25"/>
<circle cx="557.4" cy="349.5" r="8.25"/>
<circle cx="567.9" cy="343.1" r="8.25"/>
<circle cx="578.9" cy="350.1" r="8.25"/>
<circle cx="560" cy="381.2" r="8.25"/>
<circle cx="564.3" cy="368.4" r="8.25"/>
<circle cx="570.7" cy="373.7" r="8.25"/>
<circle cx="583.6" cy="371.6" r="8.25"/>
<circle cx="586.8" cy="364.1" r="8.25"/>
<circle cx="600.7" cy="361.9" r="8.25"/>
<circle cx="606.1" cy="361.9" r="8.25"/>
<circle cx="604.4" cy="380.1" r="8.25"/>
<circle cx="623.2" cy="367.3" r="8.25"/>
<circle cx="620" cy="380.1" r="8.25"/>
<circle cx="628.6" cy="376.9" r="8.25"/>
<circle cx="624.3" cy="380.1" r="8.25"/>
<circle cx="628.6" cy="352.3" r="8.25"/>
<circle cx="633.9" cy="348" r="8.25"/>
<circle cx="641.4" cy="350.1" r="8.25"/>
<circle cx="646.8" cy="354.4" r="8.25"/>
<circle cx="652.1" cy="341.6" r="8.25"/>
<circle cx="656.4" cy="346.9" r="8.25"/>
<circle cx="656.4" cy="356.6" r="8.25"/>
<circle cx="652.1" cy="372.6" r="8.25"/>
<circle cx="662.9" cy="370.5" r="8.25"/>
<circle cx="673.6" cy="354.4" r="8.25"/>
<circle cx="683.2" cy="371.6" r="8.25"/>
<circle cx="688.2" cy="348" r="8.25"/>
<circle cx="687.1" cy="354.4" r="8.25"/>
<circle cx="686.1" cy="371.6" r="8.25"/>
<circle cx="691.4" cy="381.2" r="8.25"/>
<circle cx="698.9" cy="360.9" r="8.25"/>
<circle cx="711.8" cy="366.2" r="8.25"/>
<circle cx="715" cy="352.3" r="8.25"/>
<circle cx="722.5" cy="346.9" r="8.25"/>
<circle cx="733.2" cy="370.5" r="8.25"/>
<circle cx="748.9" cy="344.1" r="8.25"/>
<circle cx="742.9" cy="352.3" r="8.25"/>
<circle cx="755.7" cy="350.1" r="8.25"/>
<circle cx="740.7" cy="359.8" r="8.25"/>
<circle cx="749.3" cy="358.7" r="8.25"/>
<circle cx="761.1" cy="354.4" r="8.25"/>
<circle cx="752.5" cy="378" r="8.25"/>
<circle cx="766.4" cy="366.2" r="8.25"/>
<circle cx="771.8" cy="351.2" r="8.25"/>
<circle cx="773.9" cy="368.4" r="8.25"/>
<circle cx="785.7" cy="346.9" r="8.25"/>
<circle cx="799.6" cy="343.7" r="8.25"/>
<circle cx="796.4" cy="352.3" r="8.25"/>
<circle cx="792.1" cy="363" r="8.25"/>
<circle cx="781.4" cy="381.2" r="8.25"/>
<circle cx="795.4" cy="374.1" r="8.25"/>
<circle cx="815.7" cy="365.1" r="8.25"/>
<circle cx="820" cy="358.7" r="8.25"/>
<circle cx="839.3" cy="355.5" r="8.25"/>
<circle cx="840.4" cy="365.6" r="8.25"/>
<circle cx="832.9" cy="375.9" r="8.25"/>
<circle cx="829.6" cy="381.2" r="8.25"/>
<circle cx="704.8" cy="356.8" r="8.25"/>
<circle cx="751.8" cy="371.7" r="8.25"/>
<circle cx="629.9" cy="373.4" r="8.25"/>
<circle cx="621.4" cy="377.4" r="8.25"/>
<circle cx="628.9" cy="345.2" r="8.25"/>
<circle cx="640.1" cy="346.3" r="8.25"/>
<circle cx="654" cy="345.7" r="8.25"/>
<circle cx="677.1" cy="358.4" r="8.25"/>
<circle cx="683.2" cy="353.2" r="8.25"/>
<circle cx="689.4" cy="368.9" r="8.25"/>
<circle cx="703.4" cy="361.1" r="8.25"/>
<circle cx="749.3" cy="340.4" r="8.25"/>
<circle cx="759.7" cy="351.8" r="8.25"/>
<circle cx="799.5" cy="356.2" r="8.25"/>
</g>
<g fill="#000" fill-opacity="0.6">
<circle cx="704.3" cy="356.1" r="8.25"/>
<circle cx="711.8" cy="380.6" r="8.25"/>
<circle cx="753.6" cy="370.1" r="8.25"/>
</g>
<g fill="#4FB9B5" fill-opacity="0.6">
<circle cx="511.1" cy="479.9" r="8.25"/>
<circle cx="541.8" cy="477.1" r="8.25"/>
<circle cx="560" cy="477.3" r="8.25"/>
<circle cx="531.7" cy="492.7" r="8.25"/>
<circle cx="550.4" cy="489.5" r="8.25"/>
<circle cx="558.9" cy="486.3" r="8.25"/>
<circle cx="574.4" cy="492.7" r="8.25"/>
<circle cx="496.1" cy="508.8" r="8.25"/>
<circle cx="503.2" cy="505.6" r="8.25"/>
<circle cx="521.4" cy="515.2" r="8.25"/>
<circle cx="553.6" cy="506.6" r="8.25"/>
<circle cx="563.2" cy="507.7" r="8.25"/>
<circle cx="557.9" cy="516.3" r="8.25"/>
<circle cx="587.4" cy="513.1" r="8.25"/>
<circle cx="591.7" cy="494.4" r="8.25"/>
<circle cx="598.6" cy="488.4" r="8.25"/>
<circle cx="602.9" cy="479.9" r="8.25"/>
<circle cx="608.2" cy="480.9" r="8.25"/>
<circle cx="618.9" cy="488.4" r="8.25"/>
<circle cx="623.2" cy="483.1" r="8.25"/>
<circle cx="629.6" cy="486.3" r="8.25"/>
<circle cx="637.1" cy="477.7" r="8.25"/>
<circle cx="641.4" cy="480.9" r="8.25"/>
<circle cx="611.4" cy="505.6" r="8.25"/>
<circle cx="621.1" cy="500.2" r="8.25"/>
<circle cx="641.4" cy="498.5" r="8.25"/>
<circle cx="645.7" cy="514.1" r="8.25"/>
<circle cx="653.2" cy="505.6" r="8.25"/>
<circle cx="660.7" cy="502.4" r="8.25"/>
<circle cx="657.9" cy="476.6" r="8.25"/>
<circle cx="667.1" cy="497" r="8.25"/>
<circle cx="673.6" cy="493.8" r="8.25"/>
<circle cx="682.1" cy="479.9" r="8.25"/>
<circle cx="684.3" cy="494.9" r="8.25"/>
<circle cx="676.8" cy="513.1" r="8.25"/>
<circle cx="698.9" cy="478.8" r="8.25"/>
<circle cx="708.6" cy="477.3" r="8.25"/>
<circle cx="707.5" cy="480.9" r="8.25"/>
<circle cx="717.1" cy="489.5" r="8.25"/>
<circle cx="730" cy="480.9" r="8.25"/>
<circle cx="733.2" cy="488.4" r="8.25"/>
<circle cx="721.4" cy="508.1" r="8.25"/>
<circle cx="743.9" cy="509.9" r="8.25"/>
<circle cx="751.4" cy="498.1" r="8.25"/>
<circle cx="758.9" cy="477.3" r="8.25"/>
<circle cx="769.6" cy="477.3" r="8.25"/>
<circle cx="760" cy="486.3" r="8.25"/>
<circle cx="757.9" cy="495.9" r="8.25"/>
<circle cx="760" cy="503.4" r="8.25"/>
<circle cx="767.5" cy="507.7" r="8.25"/>
<circle cx="773.9" cy="514.1" r="8.25"/>
<circle cx="791.1" cy="483.1" r="8.25"/>
<circle cx="795.4" cy="492.7" r="8.25"/>
<circle cx="805" cy="492.7" r="8.25"/>
<circle cx="781.4" cy="497" r="8.25"/>
<circle cx="790" cy="508.8" r="8.25"/>
<circle cx="795.4" cy="508.8" r="8.25"/>
<circle cx="837.8" cy="483.1" r="8.25"/>
<circle cx="837.8" cy="509.2" r="8.25"/>
<circle cx="862.4" cy="498.7" r="8.25"/>
<circle cx="868.2" cy="507.1" r="8.25"/>
<circle cx="769.8" cy="497.2" r="8.25"/>
<circle cx="783.9" cy="483.5" r="8.25"/>
<circle cx="548.9" cy="504.9" r="8.25"/>
<circle cx="600.5" cy="492.1" r="8.25"/>
<circle cx="638.7" cy="478.5" r="8.25"/>
<circle cx="622.3" cy="503.4" r="8.25"/>
<circle cx="675.2" cy="497.1" r="8.25"/>
<circle cx="711.5" cy="475.9" r="8.25"/>
<circle cx="763.8" cy="504.9" r="8.25"/>
<circle cx="798.6" cy="496.6" r="8.25"/>
</g>
<g fill="#000" fill-opacity="0.6">
<circle cx="727.9" cy="515.6" r="8.25"/>
<circle cx="768.6" cy="495.9" r="8.25"/>
<circle cx="782.9" cy="484.6" r="8.25"/>
</g>
<g fill="#6495D3" fill-opacity="0.6">
<circle cx="461.4" cy="634.6" r="8.25"/>
<circle cx="476.9" cy="633.1" r="8.25"/>
<circle cx="487.1" cy="624.6" r="8.25"/>
<circle cx="517.1" cy="623.9" r="8.25"/>
<circle cx="515.4" cy="629.3" r="8.25"/>
<circle cx="536" cy="611.7" r="8.25"/>
<circle cx="553.1" cy="617.5" r="8.25"/>
<circle cx="533.9" cy="632.5" r="8.25"/>
<circle cx="549.9" cy="636.4" r="8.25"/>
<circle cx="536" cy="645.6" r="8.25"/>
<circle cx="575" cy="624.6" r="8.25"/>
<circle cx="580.4" cy="623.5" r="8.25"/>
<circle cx="587.9" cy="622.4" r="8.25"/>
<circle cx="585.7" cy="631" r="8.25"/>
<circle cx="593.2" cy="636.8" r="8.25"/>
<circle cx="603.9" cy="619.6" r="8.25"/>
<circle cx="618.9" cy="620.3" r="8.25"/>
<circle cx="622.6" cy="614.3" r="8.25"/>
<circle cx="637.1" cy="617.1" r="8.25"/>
<circle cx="630.7" cy="627.8" r="8.25"/>
<circle cx="641.4" cy="626.7" r="8.25"/>
<circle cx="650" cy="622.4" r="8.25"/>
<circle cx="616.8" cy="634.2" r="8.25"/>
<circle cx="618.9" cy="639.6" r="8.25"/>
<circle cx="632.9" cy="637.4" r="8.25"/>
<circle cx="641.4" cy="639.6" r="8.25"/>
<circle cx="644.6" cy="646" r="8.25"/>
<circle cx="650" cy="641.7" r="8.25"/>
<circle cx="666.1" cy="613.9" r="8.25"/>
<circle cx="675.7" cy="617.1" r="8.25"/>
<circle cx="684.3" cy="610.6" r="8.25"/>
<circle cx="680" cy="622.4" r="8.25"/>
<circle cx="665" cy="642.8" r="8.25"/>
<circle cx="674.6" cy="639.6" r="8.25"/>
<circle cx="677.9" cy="644.9" r="8.25"/>
<circle cx="685" cy="610.6" r="8.25"/>
<circle cx="695.7" cy="622.4" r="8.25"/>
<circle cx="703.2" cy="646.4" r="8.25"/>
<circle cx="711.8" cy="612.8" r="8.25"/>
<circle cx="718.2" cy="612.8" r="8.25"/>
<circle cx="717.1" cy="620.3" r="8.25"/>
<circle cx="730.6" cy="609.6" r="8.25"/>
<circle cx="728.9" cy="619.2" r="8.25"/>
<circle cx="735.4" cy="628.9" r="8.25"/>
<circle cx="745" cy="611.7" r="8.25"/>
<circle cx="748.2" cy="620.3" r="8.25"/>
<circle cx="752.5" cy="629.9" r="8.25"/>
<circle cx="750.4" cy="639.6" r="8.25"/>
<circle cx="742.9" cy="649.2" r="8.25"/>
<circle cx="768.6" cy="611.7" r="8.25"/>
<circle cx="773.9" cy="626.7" r="8.25"/>
<circle cx="763.2" cy="641.7" r="8.25"/>
<circle cx="782.5" cy="614.9" r="8.25"/>
<circle cx="785.7" cy="638.5" r="8.25"/>
<circle cx="794.3" cy="633.1" r="8.25"/>
<circle cx="795.4" cy="636.4" r="8.25"/>
<circle cx="807.8" cy="611.7" r="8.25"/>
<circle cx="803.9" cy="617.1" r="8.25"/>
<circle cx="815.7" cy="631" r="8.25"/>
<circle cx="829.6" cy="611.7" r="8.25"/>
<circle cx="829.6" cy="625.6" r="8.25"/>
<circle cx="850.4" cy="613.2" r="8.25"/>
<circle cx="767.1" cy="637.7" r="8.25"/>
<circle cx="579.7" cy="625.8" r="8.25"/>
<circle cx="634.7" cy="615.4" r="8.25"/>
<circle cx="631.6" cy="625.9" r="8.25"/>
<circle cx="620.9" cy="633" r="8.25"/>
<circle cx="664.4" cy="640.3" r="8.25"/>
<circle cx="677.6" cy="637" r="8.25"/>
<circle cx="745.6" cy="609.7" r="8.25"/>
<circle cx="750.9" cy="620.3" r="8.25"/>
</g>
<g fill="#000" fill-opacity="0.6">
<circle cx="766.4" cy="619.9" r="8.25"/>
<circle cx="766.9" cy="639.1" r="8.25"/>
<circle cx="816.4" cy="626.7" r="8.25"/>
</g>
<g fill="#7592D8" fill-opacity="0.6">
<circle cx="458.2" cy="762.9" r="8.25"/>
<circle cx="478.1" cy="759.7" r="8.25"/>
<circle cx="479" cy="771.5" r="8.25"/>
<circle cx="507.5" cy="753.3" r="8.25"/>
<circle cx="525.7" cy="756.5" r="8.25"/>
<circle cx="503.6" cy="775.1" r="8.25"/>
<circle cx="542.9" cy="744.7" r="8.25"/>
<circle cx="550.4" cy="745.8" r="8.25"/>
<circle cx="543.9" cy="749" r="8.25"/>
<circle cx="556.8" cy="746.9" r="8.25"/>
<circle cx="563.2" cy="746.9" r="8.25"/>
<circle cx="555.7" cy="755.4" r="8.25"/>
<circle cx="566.4" cy="753.3" r="8.25"/>
<circle cx="577.1" cy="748.4" r="8.25"/>
<circle cx="566.4" cy="765.1" r="8.25"/>
<circle cx="541.8" cy="772.6" r="8.25"/>
<circle cx="538.6" cy="779" r="8.25"/>
<circle cx="551.4" cy="781.1" r="8.25"/>
<circle cx="555.7" cy="772.6" r="8.25"/>
<circle cx="566.4" cy="774.7" r="8.25"/>
<circle cx="566.4" cy="781.1" r="8.25"/>
<circle cx="580.4" cy="769.8" r="8.25"/>
<circle cx="598.6" cy="743" r="8.25"/>
<circle cx="607.1" cy="747.3" r="8.25"/>
<circle cx="622.1" cy="750.5" r="8.25"/>
<circle cx="601.8" cy="762.9" r="8.25"/>
<circle cx="612.5" cy="764" r="8.25"/>
<circle cx="614.6" cy="772.6" r="8.25"/>
<circle cx="603.9" cy="781.1" r="8.25"/>
<circle cx="613.6" cy="780.1" r="8.25"/>
<circle cx="628.6" cy="780.1" r="8.25"/>
<circle cx="632.9" cy="767.2" r="8.25"/>
<circle cx="624.3" cy="766.1" r="8.25"/>
<circle cx="638.2" cy="745.8" r="8.25"/>
<circle cx="641.4" cy="744.7" r="8.25"/>
<circle cx="650" cy="744.1" r="8.25"/>
<circle cx="658.1" cy="753.3" r="8.25"/>
<circle cx="671.4" cy="750.1" r="8.25"/>
<circle cx="670.8" cy="776.9" r="8.25"/>
<circle cx="689.3" cy="744.7" r="8.25"/>
<circle cx="681.8" cy="766.1" r="8.25"/>
<circle cx="688.2" cy="769.4" r="8.25"/>
<circle cx="698.9" cy="761.9" r="8.25"/>
<circle cx="715" cy="744.7" r="8.25"/>
<circle cx="717.1" cy="753.3" r="8.25"/>
<circle cx="725.7" cy="755.4" r="8.25"/>
<circle cx="740.7" cy="753.3" r="8.25"/>
<circle cx="752.5" cy="755.4" r="8.25"/>
<circle cx="767.9" cy="750.1" r="8.25"/>
<circle cx="736.4" cy="761.9" r="8.25"/>
<circle cx="728.9" cy="772.6" r="8.25"/>
<circle cx="722.5" cy="777.9" r="8.25"/>
<circle cx="734.3" cy="781.1" r="8.25"/>
<circle cx="742.9" cy="782.2" r="8.25"/>
<circle cx="753.6" cy="772.6" r="8.25"/>
<circle cx="757.9" cy="782.2" r="8.25"/>
<circle cx="766.4" cy="783.3" r="8.25"/>
<circle cx="764.3" cy="764" r="8.25"/>
<circle cx="771.8" cy="765.1" r="8.25"/>
<circle cx="785.7" cy="769.4" r="8.25"/>
<circle cx="800.7" cy="762.9" r="8.25"/>
<circle cx="803.9" cy="776.2" r="8.25"/>
<circle cx="795.8" cy="782.6" r="8.25"/>
<circle cx="820" cy="768.3" r="8.25"/>
<circle cx="826.4" cy="772.6" r="8.25"/>
<circle cx="838.2" cy="772.6" r="8.25"/>
<circle cx="832.9" cy="751.8" r="8.25"/>
<circle cx="843.6" cy="744.1" r="8.25"/>
<circle cx="845.3" cy="765.1" r="8.25"/>
<circle cx="742.7" cy="772.2" r="8.25"/>
<circle cx="552" cy="784.7" r="8.25"/>
<circle cx="562.6" cy="774.3" r="8.25"/>
<circle cx="563.8" cy="777.7" r="8.25"/>
<circle cx="603.9" cy="764.2" r="8.25"/>
<circle cx="616.3" cy="767.7" r="8.25"/>
<circle cx="619.2" cy="771.8" r="8.25"/>
<circle cx="637.5" cy="745.9" r="8.25"/>
<circle cx="680" cy="767.9" r="8.25"/>
<circle cx="726.3" cy="755" r="8.25"/>
<circle cx="739" cy="754.3" r="8.25"/>
<circle cx="772.8" cy="752.4" r="8.25"/>
<circle cx="726.6" cy="768.9" r="8.25"/>
<circle cx="739.2" cy="781.6" r="8.25"/>
<circle cx="760.8" cy="767.4" r="8.25"/>
<circle cx="799.5" cy="777.7" r="8.25"/>
</g>
<g fill="#000" fill-opacity="0.6">
<circle cx="742.2" cy="772.1" r="8.25"/>
<circle cx="862.2" cy="766.1" r="8.25"/>
<circle cx="871.4" cy="782.2" r="8.25"/>
</g>
<g fill="#7A92D8" fill-opacity="0.6">
<circle cx="455.6" cy="908.3" r="8.25"/>
<circle cx="484.6" cy="892.6" r="8.25"/>
<circle cx="501.1" cy="882.4" r="8.25"/>
<circle cx="521.4" cy="881.9" r="8.25"/>
<circle cx="512.9" cy="890.1" r="8.25"/>
<circle cx="496.1" cy="914.5" r="8.25"/>
<circle cx="540.1" cy="886.9" r="8.25"/>
<circle cx="548.9" cy="884.5" r="8.25"/>
<circle cx="537.1" cy="912.6" r="8.25"/>
<circle cx="570.7" cy="881.5" r="8.25"/>
<circle cx="582.5" cy="878.7" r="8.25"/>
<circle cx="585.7" cy="883" r="8.25"/>
<circle cx="592.1" cy="884.5" r="8.25"/>
<circle cx="565.4" cy="891.6" r="8.25"/>
<circle cx="585.7" cy="898" r="8.25"/>
<circle cx="588.9" cy="895.9" r="8.25"/>
<circle cx="584.6" cy="902.3" r="8.25"/>
<circle cx="560" cy="902.3" r="8.25"/>
<circle cx="566.4" cy="906.6" r="8.25"/>
<circle cx="569.6" cy="911.9" r="8.25"/>
<circle cx="596.4" cy="915.1" r="8.25"/>
<circle cx="605" cy="910.9" r="8.25"/>
<circle cx="615.3" cy="880.9" r="8.25"/>
<circle cx="627.5" cy="884.1" r="8.25"/>
<circle cx="632.9" cy="887.3" r="8.25"/>
<circle cx="611.4" cy="891.6" r="8.25"/>
<circle cx="620" cy="893.7" r="8.25"/>
<circle cx="624.3" cy="898" r="8.25"/>
<circle cx="622.1" cy="906.6" r="8.25"/>
<circle cx="622.1" cy="915.1" r="8.25"/>
<circle cx="628.6" cy="906.6" r="8.25"/>
<circle cx="639.3" cy="903.4" r="8.25"/>
<circle cx="643.6" cy="903.4" r="8.25"/>
<circle cx="652.1" cy="904.4" r="8.25"/>
<circle cx="655.4" cy="914.1" r="8.25"/>
<circle cx="662.2" cy="893.7" r="8.25"/>
<circle cx="662.9" cy="903.4" r="8.25"/>
<circle cx="671.4" cy="902.3" r="8.25"/>
<circle cx="665" cy="908.7" r="8.25"/>
<circle cx="682.1" cy="885.1" r="8.25"/>
<circle cx="686.4" cy="881.9" r="8.25"/>
<circle cx="680" cy="902.3" r="8.25"/>
<circle cx="684.3" cy="910.9" r="8.25"/>
<circle cx="686.1" cy="881.9" r="8.25"/>
<circle cx="682.9" cy="891.6" r="8.25"/>
<circle cx="705.4" cy="893.7" r="8.25"/>
<circle cx="702.1" cy="904.4" r="8.25"/>
<circle cx="704.3" cy="908.7" r="8.25"/>
<circle cx="710.7" cy="908.3" r="8.25"/>
<circle cx="690.4" cy="910.9" r="8.25"/>
<circle cx="718.2" cy="892.6" r="8.25"/>
<circle cx="725.7" cy="880.9" r="8.25"/>
<circle cx="726.8" cy="893.7" r="8.25"/>
<circle cx="735.4" cy="899.1" r="8.25"/>
<circle cx="739.6" cy="882.4" r="8.25"/>
<circle cx="759.6" cy="881.5" r="8.25"/>
<circle cx="757.9" cy="907.6" r="8.25"/>
<circle cx="773.9" cy="911.3" r="8.25"/>
<circle cx="778.2" cy="878.7" r="8.25"/>
<circle cx="786.1" cy="890.5" r="8.25"/>
<circle cx="797.1" cy="905.5" r="8.25"/>
<circle cx="810.4" cy="877.6" r="8.25"/>
<circle cx="811.4" cy="884.1" r="8.25"/>
<circle cx="797.5" cy="883" r="8.25"/>
<circle cx="813.6" cy="904.4" r="8.25"/>
<circle cx="819.6" cy="900.1" r="8.25"/>
<circle cx="828.6" cy="881.9" r="8.25"/>
<circle cx="833.5" cy="910.2" r="8.25"/>
<circle cx="869.7" cy="890.9" r="8.25"/>
<circle cx="867.8" cy="902.3" r="8.25"/>
<circle cx="880" cy="915.1" r="8.25"/>
<circle cx="801.1" cy="877" r="8.25"/>
<circle cx="595.7" cy="881" r="8.25"/>
<circle cx="562.7" cy="906.8" r="8.25"/>
<circle cx="565.7" cy="909.2" r="8.25"/>
<circle cx="602" cy="909.4" r="8.25"/>
<circle cx="632.9" cy="884.7" r="8.25"/>
<circle cx="617.5" cy="889.8" r="8.25"/>
<circle cx="621.9" cy="918.6" r="8.25"/>
<circle cx="631.8" cy="906" r="8.25"/>
<circle cx="682.4" cy="878.5" r="8.25"/>
<circle cx="702" cy="890.4" r="8.25"/>
<circle cx="687.8" cy="909.2" r="8.25"/>
<circle cx="725.2" cy="879" r="8.25"/>
<circle cx="802.2" cy="881.5" r="8.25"/>
</g>
<g fill="#000" fill-opacity="0.6">
<circle cx="801.4" cy="878.7" r="8.25"/>
<circle cx="866.7" cy="881.3" r="8.25"/>
<circle cx="895" cy="907.6" r="8.25"/>
</g>
<g fill="#8E87DB" fill-opacity="0.6">
<circle cx="447.9" cy="1026.1" r="8.25"/>
<circle cx="458.2" cy="1028.2" r="8.25"/>
<circle cx="465.7" cy="1042.1" r="8.25"/>
<circle cx="466.8" cy="1050.7" r="8.25"/>
<circle cx="489.3" cy="1039.6" r="8.25"/>
<circle cx="498.3" cy="1032.1" r="8.25"/>
<circle cx="515.6" cy="1017.1" r="8.25"/>
<circle cx="515" cy="1040" r="8.25"/>
<circle cx="527.4" cy="1046" r="8.25"/>
<circle cx="531.1" cy="1049.2" r="8.25"/>
<circle cx="533.2" cy="1016.4" r="8.25"/>
<circle cx="538.6" cy="1019.2" r="8.25"/>
<circle cx="545" cy="1027.8" r="8.25"/>
<circle cx="552.5" cy="1016" r="8.25"/>
<circle cx="557.9" cy="1021.4" r="8.25"/>
<circle cx="553.6" cy="1027.8" r="8.25"/>
<circle cx="557.9" cy="1034.2" r="8.25"/>
<circle cx="562.1" cy="1031" r="8.25"/>
<circle cx="545" cy="1044.9" r="8.25"/>
<circle cx="553.6" cy="1043.9" r="8.25"/>
<circle cx="560" cy="1041.7" r="8.25"/>
<circle cx="566.4" cy="1044.9" r="8.25"/>
<circle cx="575" cy="1014.9" r="8.25"/>
<circle cx="580.4" cy="1013.9" r="8.25"/>
<circle cx="584.6" cy="1020.3" r="8.25"/>
<circle cx="587.9" cy="1024.6" r="8.25"/>
<circle cx="596.4" cy="1023.5" r="8.25"/>
<circle cx="575" cy="1033.1" r="8.25"/>
<circle cx="581.4" cy="1037.4" r="8.25"/>
<circle cx="586.8" cy="1038.9" r="8.25"/>
<circle cx="582.5" cy="1050.3" r="8.25"/>
<circle cx="607.1" cy="1026.7" r="8.25"/>
<circle cx="615.7" cy="1029.9" r="8.25"/>
<circle cx="632.4" cy="1021.8" r="8.25"/>
<circle cx="645.3" cy="1026.1" r="8.25"/>
<circle cx="622.8" cy="1048.6" r="8.25"/>
<circle cx="638.6" cy="1043.9" r="8.25"/>
<circle cx="648.5" cy="1049.9" r="8.25"/>
<circle cx="661.4" cy="1033.8" r="8.25"/>
<circle cx="663.9" cy="1043.9" r="8.25"/>
<circle cx="668.2" cy="1046" r="8.25"/>
<circle cx="675.7" cy="1022.4" r="8.25"/>
<circle cx="676.8" cy="1037.4" r="8.25"/>
<circle cx="689.3" cy="1017.1" r="8.25"/>
<circle cx="707.5" cy="1021.4" r="8.25"/>
<circle cx="720.8" cy="1011.7" r="8.25"/>
<circle cx="724.2" cy="1018.1" r="8.25"/>
<circle cx="725.7" cy="1030.4" r="8.25"/>
<circle cx="715" cy="1037.4" r="8.25"/>
<circle cx="747.1" cy="1020.9" r="8.25"/>
<circle cx="769.6" cy="1018.1" r="8.25"/>
<circle cx="761.1" cy="1034.2" r="8.25"/>
<circle cx="778.2" cy="1033.1" r="8.25"/>
<circle cx="779.3" cy="1028.9" r="8.25"/>
<circle cx="762.8" cy="1047.5" r="8.25"/>
<circle cx="779.9" cy="1044.3" r="8.25"/>
<circle cx="791.1" cy="1020.3" r="8.25"/>
<circle cx="801.8" cy="1029.9" r="8.25"/>
<circle cx="807.1" cy="1016" r="8.25"/>
<circle cx="812.9" cy="1010.6" r="8.25"/>
<circle cx="820" cy="1016" r="8.25"/>
<circle cx="826.4" cy="1013.4" r="8.25"/>
<circle cx="827.5" cy="1017.1" r="8.25"/>
<circle cx="823.2" cy="1032.5" r="8.25"/>
<circle cx="809.3" cy="1049.2" r="8.25"/>
<circle cx="816.1" cy="1049.2" r="8.25"/>
<circle cx="838.2" cy="1035.9" r="8.25"/>
<circle cx="866.7" cy="1044.5" r="8.25"/>
<circle cx="803.8" cy="1032.6" r="8.25"/>
<circle cx="545" cy="1023.8" r="8.25"/>
<circle cx="548.4" cy="1015.2" r="8.25"/>
<circle cx="553.1" cy="1019.8" r="8.25"/>
<circle cx="554.4" cy="1028" r="8.25"/>
<circle cx="582.6" cy="1015" r="8.25"/>
<circle cx="588" cy="1023.4" r="8.25"/>
<circle cx="581.7" cy="1037.5" r="8.25"/>
<circle cx="719.5" cy="1015.2" r="8.25"/>
<circle cx="782.6" cy="1029.3" r="8.25"/>
<circle cx="823" cy="1018" r="8.25"/>
</g>
<g fill="#000" fill-opacity="0.6">
<circle cx="758.9" cy="1026.1" r="8.25"/>
<circle cx="804.4" cy="1034.6" r="8.25"/>
<circle cx="828.6" cy="1049.2" r="8.25"/>
</g>
<line x1="679.1" y1="1110.9" x2="679.1" y2="9" stroke="#929292" stroke-width="2.75" stroke-dasharray="10.43 10.43"/>
<line x1="699.6" y1="1110.9" x2="699.6" y2="9" stroke="#000" stroke-width="2.75" stroke-dasharray="10.43 10.43"/>
<g fill="#000">
<circle cx="701.7" cy="55.3" r="13.9"/>
<circle cx="688.5" cy="188.9" r="13.9"/>
<circle cx="685.3" cy="322.3" r="13.9"/>
<circle cx="683.2" cy="455.9" r="13.9"/>
<circle cx="673.1" cy="589.6" r="13.9"/>
<circle cx="669.3" cy="722.9" r="13.9"/>
<circle cx="668.8" cy="856.9" r="13.9"/>
<circle cx="662.4" cy="990.5" r="13.9"/>
</g>
<g stroke="#000" stroke-width="2" fill="none">
<line x1="293.9" y1="9" x2="293.9" y2="1111.8"/>
<line x1="292.9" y1="1110.8" x2="1111" y2="1110.8"/>
</g>
<g stroke="#333" stroke-width="1.7">
<line x1="289.2" y1="95.1" x2="293" y2="95.1"/>
<line x1="289.2" y1="228.7" x2="293" y2="228.7"/>
<line x1="289.2" y1="362.3" x2="293" y2="362.3"/>
<line x1="289.2" y1="496" x2="293" y2="496"/>
<line x1="289.2" y1="629.6" x2="293" y2="629.6"/>
<line x1="289.2" y1="763.2" x2="293" y2="763.2"/>
<line x1="289.2" y1="896.8" x2="293" y2="896.8"/>
<line x1="289.2" y1="1030.4" x2="293" y2="1030.4"/>
<line x1="424.9" y1="1111" x2="424.9" y2="1115.2"/>
<line x1="632.5" y1="1111" x2="632.5" y2="1115.2"/>
<line x1="840.2" y1="1111" x2="840.2" y2="1115.2"/>
<line x1="1047.8" y1="1111" x2="1047.8" y2="1115.2"/>
</g>
<g font-size="26.2" fill="#4D4D4D">
<text x="284.6" y="105.1" text-anchor="end">Caudate</text>
<text x="284.6" y="238" text-anchor="end">Putamen</text>
<text x="284.6" y="371.9" text-anchor="end">Hippocampus</text>
<text x="284.6" y="505.2" text-anchor="end">Amygdala</text>
<text x="284.6" y="638.8" text-anchor="end">Thalamus proper</text>
<text x="284.6" y="772.5" text-anchor="end">Pallidum</text>
<text x="284.6" y="906" text-anchor="end">Accumbens area</text>
<text x="284.6" y="1038.8" text-anchor="end">Brainstem</text>
</g>
<g font-size="26.5" fill="#4D4D4D">
<text x="424.9" y="1137.3" text-anchor="middle">0.0</text>
<text x="632.5" y="1137.3" text-anchor="middle">0.4</text>
<text x="840.2" y="1137.3" text-anchor="middle">0.8</text>
<text x="1047.8" y="1137.3" text-anchor="middle">1.2</text>
</g>
<g font-size="43" fill="#000" text-anchor="middle">
<text x="1073.5" y="373.3">*</text>
<text x="1073.5" y="640.6">*</text>
<text x="1073.5" y="774.2">*</text>
<text x="1073.5" y="907.8">*</text>
<text x="1073.5" y="1041.4">*</text>
</g>
<g font-weight="bold" fill="#000" stroke="#000" stroke-width="0.4" stroke-linejoin="round">
<text x="10.2" y="41.3" font-size="37.3">a</text>
<text x="1749.5" y="41" font-size="37.3" text-anchor="end">b</text>
<text x="703" y="1214.5" font-size="37.3" text-anchor="middle">mRNA intensity</text>
<text transform="translate(37.6,559.7) rotate(-90)" font-size="37.3" text-anchor="middle">Subcortical regions</text>
<text x="1363.5" y="63.1" font-size="40.5" text-anchor="middle">Cortical <tspan font-style="italic">t</tspan>–value</text>
<text x="1357.5" y="107" font-size="40.5" text-anchor="middle">intensities</text>
<text x="1362.3" y="227.5" font-size="40.5" text-anchor="middle">medial</text>
<text x="1364.4" y="680" font-size="40.5" text-anchor="middle">lateral</text>
</g>
<g>
<path d="M1147.5,457.4C1147.6,452.4 1149.9,439.2 1151.2,434.3C1152.6,429.4 1155.2,424.6 1157.7,420.6C1160.1,416.6 1165.6,408.9 1169.5,404.2C1173.3,399.5 1183.1,390.4 1186.7,385.4C1190.2,380.4 1193,372 1196.1,366.6C1199.1,361.3 1205.9,350.5 1209.5,345.1C1213.1,339.8 1218.6,331.4 1222.9,326.3C1227.2,321.3 1236.3,311.8 1241.7,307.5C1247.1,303.2 1257.2,297.1 1263.5,294.1C1269.7,291.1 1283,286.9 1288.5,285.2C1293.9,283.6 1298.8,282.7 1304.6,282C1310.3,281.4 1324.3,280.4 1331.4,280.4C1338.6,280.4 1352.6,281.4 1358.3,282C1364,282.6 1369,283.8 1374.4,285C1379.8,286.2 1391.7,289 1398.6,290.9C1405.5,292.8 1418.9,296.6 1426.2,299.2C1433.6,301.8 1446.6,306.9 1453.9,310.2C1461.2,313.6 1474,319.9 1481.3,324.2C1488.6,328.5 1501.9,337.7 1508.4,342.7C1514.9,347.7 1524.5,356 1529.9,361.5C1535.3,367 1544.7,377.9 1549,383.8C1553.3,389.8 1559.4,400.5 1562.1,406.1C1564.9,411.7 1567.9,420.1 1569.4,425.7C1570.9,431.3 1572.6,443.2 1573.1,448C1573.6,452.8 1573.5,458.2 1573.1,461.4C1572.8,464.7 1571,469.3 1570.5,472.2C1569.9,475 1570.2,479.7 1569.1,482.9C1568,486.1 1564.7,492.9 1562.4,496.3C1560.1,499.7 1555.6,505.4 1551.7,508.4C1547.7,511.5 1538.9,517 1532.9,519.2C1526.8,521.3 1513.2,523.5 1506,524.5C1498.8,525.5 1486.3,526.3 1479.1,526.7C1472,527 1456.9,527.3 1452.3,527.2C1447.6,527.1 1446.7,525.7 1444.2,525.9C1441.7,526.1 1436.4,527.1 1433.5,528.6C1430.6,530 1425.6,534.1 1422.7,536.6C1419.9,539.1 1415.2,545 1412,547.4C1408.8,549.7 1402.2,553.1 1398.6,554.1C1395,555.1 1388.7,555.2 1385.1,554.9C1381.6,554.5 1375.7,552.5 1371.7,551.4C1367.8,550.3 1359.8,547.8 1355.6,546.3C1351.4,544.8 1346.1,542.7 1340,540.1C1334,537.5 1317.4,529.5 1310.2,526.7C1303,523.9 1294.1,520.8 1286,518.9C1277.9,517 1256,513.4 1249.5,512.2C1243,511 1242.3,510.9 1237.4,510C1232.6,509.2 1220.2,507.6 1213,506C1205.8,504.4 1189.8,500.2 1183.7,498.2C1177.7,496.2 1171.2,493.2 1167.6,491C1164,488.8 1159.2,484.1 1156.9,481.6C1154.5,479.1 1151.4,475.4 1150.1,472.2C1148.9,468.9 1147.3,462.4 1147.5,457.4Z" fill="#356BA0" stroke="none" stroke-width="1.15" stroke-linejoin="round"/>
<path d="M1375.7,285C1378.4,283.7 1391.8,289 1398.6,290.9C1405.3,292.8 1418.9,296.6 1426.2,299.2C1433.6,301.8 1446.6,306.9 1453.9,310.2C1461.2,313.6 1474,319.9 1481.3,324.2C1488.6,328.5 1501.9,337.7 1508.4,342.7C1514.9,347.7 1524.5,356 1529.9,361.5C1535.3,367 1544.7,377.9 1549,383.8C1553.3,389.8 1559.4,400.5 1562.1,406.1C1564.9,411.7 1567.9,420.1 1569.4,425.7C1570.9,431.3 1572.6,443.2 1573.1,448C1573.6,452.8 1573.5,458.2 1573.1,461.4C1572.8,464.7 1573.3,470.9 1570.5,472.2C1567.6,473.4 1554.7,472.6 1551.7,470.8C1548.6,469 1549.1,462.5 1547.6,458.7C1546.2,455 1543.2,446.9 1540.9,442.6C1538.6,438.3 1533.8,430.1 1530.2,426.5C1526.6,422.9 1517.6,418.6 1514.1,415.8C1510.5,412.9 1506.9,408.6 1503.3,405C1499.7,401.4 1491.5,392.9 1487.2,388.9C1482.9,385 1475,378.5 1471.1,375.5C1467.1,372.4 1461.2,368.1 1457.7,366.1C1454.1,364.1 1448,361.9 1444.2,360.7C1440.5,359.5 1432.5,358.1 1429.5,357.2C1426.4,356.3 1424.4,355 1421.4,354C1418.4,353 1411.1,350.9 1406.6,350C1402.2,349.1 1391.6,348.5 1387.8,347.3C1384.1,346 1379.9,342.9 1378.4,340.6C1377,338.2 1376.7,332.5 1377.1,329.8C1377.4,327.1 1380.9,324.4 1381.1,320.4C1381.3,316.5 1379.1,305 1378.4,300.3C1377.7,295.6 1373.1,286.2 1375.7,285Z" fill="#34A4AB" stroke="#fff" stroke-width="1.15" stroke-linejoin="round"/>
<path d="M1289.8,286.9C1291.4,284.4 1299,282.9 1304.6,282C1310.1,281.2 1324.3,280.4 1331.4,280.4C1338.6,280.4 1352.6,281.3 1358.3,282C1364,282.7 1371.7,283.1 1374.4,285.5C1377.1,287.9 1377.5,295.6 1378.4,300.3C1379.3,304.9 1381.3,316.5 1381.1,320.4C1380.9,324.4 1377.4,327.3 1377.1,329.8C1376.7,332.3 1379.9,337.6 1378.4,339.2C1377,340.8 1370.5,341.3 1366.3,341.9C1362.2,342.5 1352.6,343.9 1347.5,343.8C1342.5,343.7 1333.7,341.6 1328.7,341.1C1323.8,340.6 1313.5,342.3 1310.5,340C1307.4,337.8 1307.6,328.3 1305.9,324.5C1304.2,320.6 1299.6,314.3 1297.9,311C1296.1,307.8 1293.6,303.5 1292.5,300.3C1291.4,297.1 1288.2,289.3 1289.8,286.9Z" fill="#3474A0" stroke="#fff" stroke-width="1.15" stroke-linejoin="round"/>
<path d="M1288.5,286.9C1292,287.4 1291.2,297.1 1292.5,300.3C1293.7,303.5 1296.1,307.8 1297.9,311C1299.6,314.3 1304.2,320.6 1305.9,324.5C1307.6,328.3 1311,336.8 1310.5,340C1309.9,343.3 1303.3,346.1 1301.9,348.6C1300.5,351.2 1299.9,356.7 1299.7,359.4C1299.6,362.1 1301.7,367.1 1300.5,368.8C1299.4,370.5 1294.2,371.5 1291.1,372.3C1288.1,373 1280.8,373 1277.7,374.1C1274.7,375.3 1270.3,378.2 1268.3,380.9C1266.3,383.5 1263.8,391.1 1262.9,394.3C1262,397.5 1262,401.8 1261.6,405C1261.2,408.3 1261.2,415.2 1260.3,418.5C1259.4,421.7 1256.3,426.5 1254.9,429.2C1253.5,431.9 1250.5,434.8 1249.5,438.6C1248.5,442.4 1250.3,454.8 1247.6,457.4C1244.9,460 1232.3,459.5 1229.4,458.2C1226.4,457 1227,451.3 1225.3,448C1223.7,444.7 1219.6,437.2 1217.3,433.2C1215,429.3 1210.6,422.2 1207.9,418.5C1205.2,414.7 1199.8,409.1 1197.1,405C1194.5,400.9 1187.6,392.4 1187.7,387.6C1187.9,382.7 1195.3,374.1 1198.5,368.8C1201.7,363.4 1208.3,352.7 1211.9,347.3C1215.5,341.9 1221,333.5 1225.3,328.5C1229.6,323.5 1238.8,314 1244.1,309.7C1249.5,305.4 1259.7,299.3 1265.6,296.3C1271.5,293.2 1284.9,286.3 1288.5,286.9Z" fill="#413E7F" stroke="#fff" stroke-width="1.15" stroke-linejoin="round"/>
<path d="M1310.5,340C1314.1,339 1323.8,340.6 1328.7,341.1C1333.7,341.6 1342.5,343.7 1347.5,343.8C1352.6,343.9 1362.2,342.3 1366.3,341.9C1370.5,341.5 1375.6,339.9 1378.4,340.6C1381.3,341.3 1384.1,346 1387.8,347.3C1391.6,348.5 1402.2,349.1 1406.6,350C1411.1,350.9 1418.4,352.9 1421.4,354C1424.4,355.1 1428.9,355.9 1429.5,358C1430,360.2 1425.6,367.4 1425.4,370.1C1425.2,372.8 1427.9,375.8 1428.1,378.2C1428.3,380.5 1428.9,386.3 1426.8,387.6C1424.6,388.8 1417.9,387.9 1412,387.6C1406.1,387.3 1389.6,385.2 1382.5,385.4C1375.3,385.6 1364,388.2 1358.3,388.9C1352.6,389.7 1344.7,390.7 1339.5,391.1C1334.3,391.4 1322.6,392.8 1319.3,391.6C1316.1,390.4 1316.9,384.3 1315.3,382.2C1313.7,380.1 1309.2,377.2 1307.3,375.5C1305.3,373.8 1301.5,371.7 1300.5,369.6C1299.5,367.4 1299.6,362.2 1299.7,359.4C1299.9,356.6 1300.5,351.2 1301.9,348.6C1303.3,346.1 1306.9,341 1310.5,340Z" fill="#3AABAC" stroke="#fff" stroke-width="1.15" stroke-linejoin="round"/>
<path d="M1300.5,369.6C1302.7,370 1305.3,373.8 1307.3,375.5C1309.2,377.2 1313.9,380.2 1315.3,382.2C1316.7,384.2 1319.8,387.6 1318,390.3C1316.2,392.9 1305.8,399.5 1301.9,402.3C1297.9,405.2 1291.1,409.6 1288.5,411.7C1285.8,413.9 1282.8,415.8 1281.7,418.5C1280.7,421.1 1281.3,429.4 1280.4,431.9C1279.5,434.4 1276.1,434.8 1275,437.3C1274,439.8 1272,447.6 1272.3,450.7C1272.7,453.7 1276.4,457.8 1277.7,460.1C1279.1,462.4 1282.2,466.2 1282.5,468.1C1282.9,470.1 1281.2,473.2 1280.4,474.9C1279.6,476.5 1277.8,480.6 1276.4,480.2C1274.9,479.9 1271.6,474.3 1269.7,472.2C1267.7,470 1263.9,466 1261.6,464.1C1259.3,462.3 1254.1,459.1 1252.2,458.2C1250.3,457.3 1248,460 1247.6,457.4C1247.3,454.8 1248.5,442.4 1249.5,438.6C1250.5,434.8 1253.5,431.9 1254.9,429.2C1256.3,426.5 1259.4,421.7 1260.3,418.5C1261.2,415.2 1261.2,408.3 1261.6,405C1262,401.8 1262,397.5 1262.9,394.3C1263.8,391.1 1266.3,383.5 1268.3,380.9C1270.3,378.2 1274.7,375.3 1277.7,374.1C1280.8,373 1288.1,372.9 1291.1,372.3C1294.2,371.7 1298.4,369.1 1300.5,369.6Z" fill="#38264C" stroke="#fff" stroke-width="1.15" stroke-linejoin="round"/>
<path d="M1429.5,358C1432,356.8 1440.5,359.6 1444.2,360.7C1448,361.8 1454.1,364.1 1457.7,366.1C1461.2,368.1 1467.1,372.4 1471.1,375.5C1475,378.5 1482.9,385 1487.2,388.9C1491.5,392.9 1499.7,401.4 1503.3,405C1506.9,408.6 1513.3,413.3 1514.1,415.8C1514.8,418.3 1509.8,421.7 1508.7,423.8C1507.6,426 1508.5,431.9 1506,431.9C1503.5,431.9 1493.8,426.3 1489.9,423.8C1485.9,421.3 1480.4,415.8 1476.5,413.1C1472.5,410.4 1463.9,406 1460.3,403.7C1456.8,401.4 1452.5,397.4 1449.6,395.6C1446.7,393.8 1441.9,391.3 1438.9,390.3C1435.8,389.2 1428.2,389.2 1426.8,387.6C1425.3,386 1428.3,380.5 1428.1,378.2C1427.9,375.8 1425.2,372.8 1425.4,370.1C1425.6,367.4 1427,359.3 1429.5,358Z" fill="#3B2C5B" stroke="#fff" stroke-width="1.15" stroke-linejoin="round"/>
<path d="M1514.1,415.8C1516.9,416.1 1526.6,422.9 1530.2,426.5C1533.8,430.1 1538.6,438.3 1540.9,442.6C1543.2,446.9 1546.4,455 1547.6,458.7C1548.9,462.5 1551.2,468.1 1550.3,470.8C1549.4,473.5 1543.6,476.6 1540.9,478.9C1538.2,481.2 1533,486 1530.2,488.3C1527.3,490.6 1522.3,494.2 1519.4,496.3C1516.6,498.5 1512.3,503 1508.7,504.4C1505.1,505.8 1497,506.7 1492.6,507.1C1488.1,507.4 1477.8,508.2 1475.1,507.1C1472.4,506 1471.9,501.2 1472.4,499C1473,496.9 1476.8,492.8 1479.1,491C1481.5,489.2 1487,487.7 1489.9,485.6C1492.8,483.5 1498.5,478.1 1500.6,474.9C1502.8,471.6 1505.1,465.4 1506,461.4C1506.9,457.5 1507.3,449.3 1507.3,445.3C1507.3,441.4 1505.8,434.8 1506,431.9C1506.2,429 1507.6,426 1508.7,423.8C1509.8,421.7 1511.2,415.4 1514.1,415.8Z" fill="#413E7F" stroke="#fff" stroke-width="1.15" stroke-linejoin="round"/>
<path d="M1550.3,470.8C1554.1,469.8 1566.6,469.2 1569.1,470.8C1571.6,472.4 1570,479.5 1569.1,482.9C1568.2,486.3 1564.7,492.9 1562.4,496.3C1560.1,499.7 1555.6,505.4 1551.7,508.4C1547.7,511.5 1538.9,517 1532.9,519.2C1526.8,521.3 1513.2,523.5 1506,524.5C1498.8,525.5 1486.3,526.3 1479.1,526.7C1472,527 1456.9,527.5 1452.3,527.2C1447.6,526.9 1443.7,525.6 1444.2,524.5C1444.8,523.5 1453.4,521.1 1456.3,519.2C1459.2,517.2 1463.2,511.4 1465.7,509.8C1468.2,508.2 1471.5,507.4 1475.1,507.1C1478.7,506.7 1488.1,507.4 1492.6,507.1C1497,506.7 1505.1,505.8 1508.7,504.4C1512.3,503 1516.6,498.5 1519.4,496.3C1522.3,494.2 1527.3,490.6 1530.2,488.3C1533,486 1538.2,481.2 1540.9,478.9C1543.6,476.6 1546.6,471.9 1550.3,470.8Z" fill="#3474A0" stroke="#fff" stroke-width="1.15" stroke-linejoin="round"/>
<path d="M1319.3,391.6C1324.4,390.1 1334.3,391.4 1339.5,391.1C1344.7,390.7 1352.6,389.7 1358.3,388.9C1364,388.2 1375.3,385.6 1382.5,385.4C1389.6,385.2 1406.1,387.3 1412,387.6C1417.9,387.9 1423.2,387.2 1426.8,387.6C1430.4,387.9 1435.8,389.2 1438.9,390.3C1441.9,391.3 1446.7,393.8 1449.6,395.6C1452.5,397.4 1456.8,401.4 1460.3,403.7C1463.9,406 1472.5,410.4 1476.5,413.1C1480.4,415.8 1485.9,421.3 1489.9,423.8C1493.8,426.3 1503.7,429 1506,431.9C1508.3,434.8 1507.3,441.4 1507.3,445.3C1507.3,449.3 1506.9,457.5 1506,461.4C1505.1,465.4 1502.8,471.6 1500.6,474.9C1498.5,478.1 1492.8,483.5 1489.9,485.6C1487,487.7 1481.5,489.2 1479.1,491C1476.8,492.8 1473.1,496.9 1472.4,499C1471.7,501.2 1474.7,505.5 1473.8,507.1C1472.9,508.7 1468,509.5 1465.7,511.1C1463.4,512.7 1459.2,517.4 1456.3,519.2C1453.4,521 1447.3,523.3 1444.2,524.5C1441.2,525.8 1436.4,527 1433.5,528.6C1430.6,530.2 1425.6,534.3 1422.7,536.6C1419.9,539 1415.2,544.6 1412,546C1408.8,547.5 1402.2,547.6 1398.6,547.4C1395,547.2 1388.7,545.6 1385.1,544.7C1381.6,543.8 1375.5,541.4 1371.7,540.7C1368,539.9 1359.4,540.2 1356.9,539.3C1354.4,538.4 1355.2,535.9 1352.9,533.9C1350.6,532 1343.4,527 1339.5,524.5C1335.5,522 1327.7,517.8 1323.4,515.1C1319.1,512.5 1311.6,507.3 1307.3,504.4C1303,501.5 1294,496.2 1291.1,493.7C1288.3,491.2 1287.2,487.7 1285.8,485.6C1284.3,483.5 1280.8,479.9 1280.4,477.5C1280,475.2 1282.9,470.5 1282.5,468.1C1282.2,465.8 1279.1,462.4 1277.7,460.1C1276.4,457.8 1272.7,453.7 1272.3,450.7C1272,447.6 1274,439.8 1275,437.3C1276.1,434.8 1279.5,434.4 1280.4,431.9C1281.3,429.4 1280.7,421.1 1281.7,418.5C1282.8,415.8 1285.8,413.9 1288.5,411.7C1291.1,409.6 1297.8,405 1301.9,402.3C1306,399.7 1314.3,393.1 1319.3,391.6Z" fill="#808080" stroke="#fff" stroke-width="1.15" stroke-linejoin="round"/>
<path d="M1187.7,387.6C1191.3,387.5 1194.5,400.9 1197.1,405C1199.8,409.1 1205.2,414.7 1207.9,418.5C1210.6,422.2 1216.1,430.7 1217.3,433.2C1218.4,435.7 1218.4,436.8 1216.5,437.3C1214.5,437.7 1205.3,437.1 1202.5,436.7C1199.8,436.4 1198.3,434.6 1195.8,434.6C1193.3,434.6 1187.1,435.5 1183.7,436.7C1180.3,438 1173.5,442.1 1170.3,444C1167.1,445.8 1162.5,448.9 1159.5,450.7C1156.6,452.5 1149.3,459.5 1148.3,457.4C1147.3,455.3 1150.6,439.8 1152,435.1C1153.5,430.4 1156.5,425.9 1159,421.9C1161.5,418 1167,410.4 1170.8,405.8C1174.7,401.3 1184.2,387.7 1187.7,387.6Z" fill="#0B0405" stroke="#fff" stroke-width="1.15" stroke-linejoin="round"/>
<path d="M1148.3,457.4C1149.9,456.3 1156.6,452.5 1159.5,450.7C1162.5,448.9 1167.1,445.8 1170.3,444C1173.5,442.1 1180.3,438 1183.7,436.7C1187.1,435.5 1193.3,434.6 1195.8,434.6C1198.3,434.6 1199.8,436.4 1202.5,436.7C1205.3,437.1 1213.4,435.8 1216.5,437.3C1219.5,438.8 1224.1,445.3 1225.3,448C1226.6,450.7 1227.2,455.4 1226.1,457.4C1225.1,459.4 1219,461.2 1217.3,462.8C1215.6,464.4 1215.2,468.4 1213.3,469.5C1211.3,470.6 1205.7,470.1 1202.5,470.8C1199.3,471.5 1192.3,474.3 1189.1,474.9C1185.9,475.4 1181.2,474.1 1178.3,474.9C1175.5,475.6 1170.5,479.4 1167.6,480.2C1164.7,481 1159.2,481.8 1156.9,480.8C1154.5,479.7 1151.4,475.1 1150.1,472.2C1148.9,469.2 1147.7,460.7 1147.5,458.7C1147.2,456.8 1146.7,458.5 1148.3,457.4Z" fill="#201520" stroke="#fff" stroke-width="1.15" stroke-linejoin="round"/>
<path d="M1156.9,480.8C1156.9,479.4 1164.7,481 1167.6,480.2C1170.5,479.4 1175.5,475.6 1178.3,474.9C1181.2,474.1 1185.9,475.4 1189.1,474.9C1192.3,474.3 1199.3,471.5 1202.5,470.8C1205.7,470.1 1211.3,470.6 1213.3,469.5C1215.2,468.4 1215.6,464.3 1217.3,462.8C1219,461.3 1222.1,458.9 1226.1,458.2C1230.2,457.5 1244.2,457.4 1247.6,457.4C1251.1,457.4 1250.3,457.3 1252.2,458.2C1254.1,459.1 1259.3,462.3 1261.6,464.1C1263.9,466 1267.7,470 1269.7,472.2C1271.6,474.3 1275.3,477.4 1276.4,480.2C1277.4,483.1 1277.4,490.6 1277.7,493.7C1278.1,496.7 1278,500.9 1279.1,503.1C1280.1,505.2 1288.5,508.9 1285.8,509.8C1283.1,510.6 1265.4,509.6 1258.9,509.2C1252.5,508.9 1243.9,507.8 1237.4,507.1C1231,506.4 1217.7,505.2 1210.6,503.9C1203.4,502.5 1189.4,498.7 1183.7,496.9C1178,495.1 1171.2,492.6 1167.6,490.4C1164,488.3 1156.9,482.1 1156.9,480.8Z" fill="#160A14" stroke="#fff" stroke-width="1.15" stroke-linejoin="round"/>
<path d="M1276.4,480.2C1276.7,478.3 1279.1,478.2 1280.4,478.9C1281.7,479.6 1284.3,483.6 1285.8,485.6C1287.2,487.6 1288.3,491.2 1291.1,493.7C1294,496.2 1303,501.5 1307.3,504.4C1311.6,507.3 1319.1,512.5 1323.4,515.1C1327.7,517.8 1335.5,522 1339.5,524.5C1343.4,527 1350.8,532 1352.9,533.9C1355.1,535.9 1355.6,538.1 1355.6,539.3C1355.6,540.6 1355.1,543.5 1352.9,543.3C1350.8,543.2 1344.1,540.3 1339.5,538C1334.8,535.6 1323,528.8 1318,525.9C1313,523 1306.2,518.6 1301.9,516.5C1297.6,514.3 1288.8,511.6 1285.8,509.8C1282.7,508 1280.1,505.2 1279.1,503.1C1278,500.9 1278.1,496.7 1277.7,493.7C1277.4,490.6 1276,482.2 1276.4,480.2Z" fill="#3B4F97" stroke="#fff" stroke-width="1.15" stroke-linejoin="round"/>
<path d="M1356.9,539.9C1358.9,539.4 1368,540.7 1371.7,541.5C1375.5,542.2 1381.6,544.4 1385.1,545.2C1388.7,546.1 1395.7,547.6 1398.6,547.9C1401.4,548.3 1405.9,547.3 1406.6,547.9C1407.3,548.6 1406.8,551.9 1403.9,552.7C1401.1,553.6 1389.4,554.4 1385.1,554.1C1380.8,553.8 1375.5,551.8 1371.7,550.6C1368,549.3 1358.9,546.1 1356.9,544.7C1355,543.3 1355,540.3 1356.9,539.9Z" fill="#3474A0" stroke="#fff" stroke-width="1.15" stroke-linejoin="round"/>
<path d="M1276.4,433.2C1277.6,433.8 1283.4,435.5 1285.8,437.3C1288.1,439 1290.6,444.9 1293.8,446.7C1297.1,448.4 1304.6,451.4 1309.9,450.1C1315.3,448.9 1328,440.6 1334.1,437.3C1340.2,433.9 1352,427.9 1355.6,425.2C1359.2,422.5 1358.8,418.6 1361,417.1C1363.1,415.6 1368.1,414.1 1371.7,413.9C1375.3,413.6 1383.9,415.3 1387.8,415.2C1391.8,415.2 1397.7,413.4 1401.3,413.6C1404.8,413.9 1410.7,416.1 1414.7,417.1C1418.6,418.1 1426.5,419.9 1430.8,421.1C1435.1,422.4 1443.7,424.5 1446.9,426.5C1450.1,428.5 1452.5,433.9 1455,435.9C1457.5,437.9 1463.4,439.3 1465.7,441.3C1468,443.3 1471.3,448 1472.4,450.7C1473.6,453.4 1474.5,458.2 1474.3,461.4C1474.1,464.7 1472.2,471.5 1471.1,474.9C1469.9,478.3 1464.6,485.2 1465.7,486.9C1466.8,488.7 1477.4,488.1 1479.1,488.3" fill="none" stroke="#fff" stroke-width="1.15" stroke-linejoin="round"/>
</g>
<g>
<path d="M1150.9,898C1150.9,893.7 1152,886.2 1152.8,881.9C1153.6,877.6 1155.2,870.1 1156.9,865.8C1158.5,861.5 1162.3,853.7 1164.9,849.7C1167.5,845.6 1172.4,840 1176.2,835.2C1180,830.4 1187.5,819.4 1193.4,813.7C1199.3,807.9 1213.1,797.6 1220.2,792.2C1227.4,786.8 1240,777.8 1247.1,773.4C1254.2,768.9 1266.6,762.4 1273.7,758.9C1280.8,755.3 1292.7,749.4 1300.5,746.8C1308.4,744.2 1325.1,741 1332.8,739.3C1340.5,737.5 1351.3,734.8 1358.3,733.6C1365.3,732.5 1378.7,730.9 1385.1,730.4C1391.6,729.9 1400.9,729.4 1406.6,729.9C1412.4,730.4 1422.7,732.8 1428.1,734.2C1433.5,735.5 1441.9,737.9 1446.9,740.1C1451.9,742.2 1460.7,747.1 1465.7,750.3C1470.7,753.4 1480.2,759.8 1484.5,763.7C1488.8,767.7 1494.4,775.2 1497.9,779.8C1501.5,784.5 1507.8,793.6 1511.4,798.6C1515,803.6 1521.2,812.4 1524.8,817.4C1528.4,822.4 1535,831.2 1538.2,836.2C1541.5,841.2 1546.8,851.3 1549,855C1551.1,858.8 1552.6,861.6 1554.3,864.4C1556.1,867.3 1560.4,872.8 1562.4,876.5C1564.4,880.3 1567.9,888.3 1569.1,892.6C1570.4,896.9 1571.6,904.4 1571.8,908.7C1572,913 1571.7,920.7 1570.5,924.9C1569.2,929 1565.3,936.2 1562.4,939.6C1559.5,943 1553.3,948.2 1549,950.4C1544.7,952.6 1535.2,954.4 1530.2,956C1525.2,957.7 1516.4,960.9 1511.4,962.7C1506.4,964.6 1497.6,968.2 1492.6,970C1487.6,971.7 1479.1,974 1473.8,975.9C1468.4,977.7 1458.7,981.4 1452.3,983.9C1445.8,986.4 1432.6,991.8 1425.4,994.7C1418.3,997.6 1405.7,1002.7 1398.6,1005.4C1391.4,1008.1 1378.9,1012.7 1371.7,1014.8C1364.6,1017 1351.3,1020.5 1344.9,1021.5C1338.4,1022.6 1328.4,1023.2 1323.4,1022.9C1318.4,1022.5 1310.3,1020.1 1307.3,1018.9C1304.2,1017.6 1302.2,1015.3 1300.5,1013.5C1298.9,1011.7 1296.8,1008.3 1295.2,1005.4C1293.6,1002.6 1290.1,995.2 1288.5,992C1286.8,988.8 1285.2,983.6 1283.1,981.3C1280.9,978.9 1275.6,976 1272.3,974.5C1269.1,973.1 1263.6,971.2 1258.9,970.5C1254.3,969.8 1242.8,969.7 1237.4,969.2C1232.1,968.6 1223.6,967.4 1218.6,966.5C1213.6,965.6 1204.5,963.9 1199.8,962.5C1195.2,961 1187.5,957.7 1183.7,955.7C1180,953.8 1174.1,949.7 1171.6,947.7C1169.1,945.7 1166.7,943.7 1164.9,941C1163.1,938.3 1159.8,931.1 1158.2,927.5C1156.6,924 1153.8,918.1 1152.8,914.1C1151.9,910.2 1150.9,902.3 1150.9,898Z" fill="#3E4C93" stroke="none" stroke-width="1.15" stroke-linejoin="round"/>
<path d="M1176.2,835.2C1176.1,834.3 1187.5,819.4 1193.4,813.7C1199.3,807.9 1213.1,797.6 1220.2,792.2C1227.4,786.8 1240,777.8 1247.1,773.4C1254.2,768.9 1266.6,762.4 1273.7,758.9C1280.8,755.3 1292.7,749.4 1300.5,746.8C1308.4,744.2 1329.7,739.2 1332.8,739.3C1335.8,739.4 1326.1,744.9 1323.4,747.6C1320.7,750.3 1315.5,757.9 1312.6,759.7C1309.8,761.5 1305.3,760.4 1301.9,761C1298.5,761.6 1292.7,762.4 1287.1,764.3C1281.6,766.1 1266.9,771.7 1260.3,775C1253.6,778.3 1242.3,786 1237.4,789.2C1232.5,792.4 1227,796.5 1223.5,798.9C1219.9,801.3 1214.4,804.4 1210.6,807.2C1206.7,810.1 1199,816.4 1194.5,820.1C1189.9,823.8 1176.3,836 1176.2,835.2Z" fill="#35A3AB" stroke="#fff" stroke-width="1.15" stroke-linejoin="round"/>
<path d="M1223.5,798.9C1224,796.6 1232.5,792.4 1237.4,789.2C1242.3,786 1253.6,778.3 1260.3,775C1266.9,771.7 1281.6,766.1 1287.1,764.3C1292.7,762.4 1298.7,761.7 1301.9,761C1305.1,760.4 1310.1,758.5 1311.3,759.4C1312.4,760.3 1311.7,765.4 1310.5,767.7C1309.2,770.1 1303.7,774.1 1301.9,777.1C1300,780.2 1298.3,787 1296.5,790.6C1294.7,794.2 1290.6,800.4 1288.5,804C1286.3,807.6 1282.5,813.8 1280.4,817.4C1278.3,821 1274.1,827.6 1272.3,830.9C1270.6,834.1 1268.8,839.8 1267,841.6C1265.2,843.4 1261.2,843.9 1258.9,844.3C1256.6,844.6 1251.1,845.4 1249.5,844.3C1247.9,843.2 1248.1,838.4 1246.8,836.2C1245.6,834.1 1241.2,830.3 1240.1,828.2C1239,826 1239.5,822.1 1238.8,820.1C1238.1,818.1 1235.5,815.2 1234.7,813.4C1234,811.6 1234.9,808.6 1233.4,806.7C1231.9,804.8 1222.9,801.2 1223.5,798.9Z" fill="#366A9F" stroke="#fff" stroke-width="1.15" stroke-linejoin="round"/>
<path d="M1150.9,898C1150.9,893.7 1152,886.2 1152.8,881.9C1153.6,877.6 1155.2,870.1 1156.9,865.8C1158.5,861.5 1162.3,853.7 1164.9,849.7C1167.5,845.6 1172.3,839.1 1176.2,835.2C1180.1,831.2 1189.9,823.8 1194.5,820.1C1199,816.4 1206.8,810 1210.6,807.2C1214.4,804.4 1219.9,799.2 1222.9,799.2C1226,799.1 1231.8,804.8 1233.4,806.7C1235,808.6 1234,811.6 1234.7,813.4C1235.5,815.2 1238.1,818.1 1238.8,820.1C1239.5,822.1 1239,826 1240.1,828.2C1241.2,830.3 1245.6,834.1 1246.8,836.2C1248.1,838.4 1250.1,842.5 1249.5,844.3C1249,846.1 1245.1,847.9 1242.8,849.7C1240.5,851.4 1234.2,855.2 1232.1,857.7C1229.9,860.2 1227.9,865.8 1226.7,868.5C1225.4,871.1 1223.7,875.8 1222.7,877.9C1221.6,879.9 1220.6,883.1 1218.6,884C1216.7,884.9 1210.4,883.8 1207.9,884.6C1205.4,885.4 1202,887.8 1199.8,889.9C1197.7,892.1 1193.9,898.2 1191.8,900.7C1189.6,903.2 1185.5,906.2 1183.7,908.7C1181.9,911.2 1179.2,917.3 1178.3,919.5C1177.4,921.6 1178.1,923.1 1177,924.9C1175.9,926.6 1171.4,930 1170.3,932.9C1169.2,935.8 1169.7,945.3 1168.9,946.3C1168.2,947.4 1166.3,943.5 1164.9,941C1163.5,938.5 1159.8,931.1 1158.2,927.5C1156.6,924 1153.8,918.1 1152.8,914.1C1151.9,910.2 1150.9,902.3 1150.9,898Z" fill="#347BA3" stroke="#fff" stroke-width="1.15" stroke-linejoin="round"/>
<path d="M1249.5,844.8C1251.7,844.2 1256.6,845.2 1258.9,844.8C1261.2,844.5 1265.4,841.1 1267,842.1C1268.6,843.1 1269.7,848.8 1271,852.3C1272.3,855.9 1274.6,864.2 1276.4,868.5C1278.2,872.8 1282.8,881 1284.4,884.6C1286,888.2 1289.7,893 1288.5,895.3C1287.2,897.6 1278.3,900.4 1275,902C1271.8,903.6 1267.3,906.3 1264.3,907.4C1261.2,908.5 1255.6,910.1 1252.2,910.1C1248.8,910.1 1240.9,908.7 1238.8,907.4C1236.6,906.1 1237.7,902.7 1236.1,900.7C1234.5,898.7 1228.8,894.8 1226.7,892.6C1224.5,890.5 1220.5,886.5 1220,884.6C1219.4,882.6 1221.8,880 1222.7,877.9C1223.6,875.7 1225.4,871.1 1226.7,868.5C1227.9,865.8 1229.9,860.2 1232.1,857.7C1234.2,855.2 1240.5,851.4 1242.8,849.7C1245.1,847.9 1247.4,845.5 1249.5,844.8Z" fill="#3BAAAC" stroke="#fff" stroke-width="1.15" stroke-linejoin="round"/>
<path d="M1207.9,885.1C1210.4,884.4 1216.1,883.6 1218.6,884.6C1221.1,885.6 1224.4,890.5 1226.7,892.6C1229,894.8 1234.5,898.7 1236.1,900.7C1237.7,902.7 1236.6,906.1 1238.8,907.4C1240.9,908.7 1250.9,908.5 1252.2,910.6C1253.5,912.8 1250.1,921.3 1248.2,923.5C1246.2,925.8 1239.9,926.1 1237.4,927.5C1234.9,929 1231.5,932.9 1229.4,934.3C1227.2,935.6 1224.2,937.4 1221.3,937.7C1218.4,938.1 1211.8,937.6 1207.9,936.9C1203.9,936.3 1195.7,934.5 1191.8,932.9C1187.8,931.3 1180.1,926.6 1178.3,924.9C1176.6,923.1 1177.6,921.6 1178.3,919.5C1179.1,917.3 1181.9,911.2 1183.7,908.7C1185.5,906.2 1189.6,903.2 1191.8,900.7C1193.9,898.2 1197.7,892 1199.8,889.9C1202,887.9 1205.4,885.8 1207.9,885.1Z" fill="#347BA3" stroke="#fff" stroke-width="1.15" stroke-linejoin="round"/>
<path d="M1177.8,925.4C1180.7,925.3 1187.8,931.8 1191.8,933.5C1195.8,935.1 1204.3,936.7 1207.9,937.5C1211.5,938.3 1217.4,938.6 1218.6,939.6C1219.9,940.6 1218.7,943.2 1217.3,945C1215.9,946.8 1211.3,951.6 1207.9,953.1C1204.5,954.5 1195.4,955.7 1191.8,955.7C1188.2,955.7 1183.8,954 1181,953.1C1178.2,952.1 1172.3,951 1170.8,948.5C1169.3,946 1168.8,937.3 1169.7,934.3C1170.7,931.2 1174.9,925.5 1177.8,925.4Z" fill="#385C9C" stroke="#fff" stroke-width="1.15" stroke-linejoin="round"/>
<path d="M1221.3,938.3C1222.7,937.6 1227.2,936.2 1229.4,934.8C1231.5,933.4 1234.9,929.5 1237.4,928.1C1239.9,926.6 1246.4,923.8 1248.2,924.1C1250,924.3 1250.7,927.3 1250.9,930.2C1251,933.2 1249.2,942.4 1249.5,946.3C1249.9,950.3 1252.1,956.5 1253.5,959.8C1255,963.1 1262.4,969.8 1260.3,971.1C1258.1,972.3 1243,969.8 1237.4,969.2C1231.9,968.6 1223.6,967.4 1218.6,966.5C1213.6,965.6 1204.5,963.9 1199.8,962.5C1195.2,961 1187.5,957.6 1183.7,955.7C1180,953.9 1172,948.8 1171.6,948.5C1171.3,948.2 1178.3,952.6 1181,953.6C1183.7,954.6 1188.2,956.3 1191.8,956.3C1195.4,956.3 1204.5,955 1207.9,953.6C1211.3,952.2 1215.8,947.4 1217.3,945.5C1218.8,943.7 1218.6,940.6 1219.2,939.6C1219.7,938.7 1220,938.9 1221.3,938.3Z" fill="#36689F" stroke="#fff" stroke-width="1.15" stroke-linejoin="round"/>
<path d="M1332.8,739C1337.4,737.1 1351.3,734.8 1358.3,733.6C1365.3,732.5 1380.7,730.8 1385.1,730.4C1389.6,730.1 1392.2,729.4 1391.9,730.9C1391.5,732.5 1385.5,738.6 1382.5,742.2C1379.4,745.9 1372.3,753.7 1369,758.3C1365.8,763 1361.5,772.1 1358.3,777.1C1355.1,782.2 1348.1,790.9 1344.9,795.9C1341.6,801 1336.8,810.4 1334.1,814.7C1331.4,819 1326.5,824.2 1324.7,828.2C1322.9,832.1 1321.4,840.7 1320.7,844.3C1320,847.9 1320.1,852.2 1319.3,855C1318.6,857.9 1315.5,862.9 1315.3,865.8C1315.1,868.6 1316.9,873.8 1318,876.5C1319.1,879.2 1324.1,884.1 1323.4,885.9C1322.7,887.7 1315.5,888.9 1312.6,889.9C1309.8,891 1305,893.2 1301.9,894C1298.7,894.8 1291.3,897.1 1289,895.9C1286.7,894.6 1286.1,888.2 1284.4,884.6C1282.7,880.9 1278.2,872.8 1276.4,868.5C1274.6,864.2 1272.3,855.9 1271,852.3C1269.7,848.8 1266.8,845 1267,842.1C1267.2,839.3 1270.6,834.2 1272.3,830.9C1274.1,827.6 1278.3,821 1280.4,817.4C1282.5,813.8 1286.3,807.6 1288.5,804C1290.6,800.4 1294.7,794.2 1296.5,790.6C1298.3,787 1300.1,780.2 1301.9,777.1C1303.7,774.1 1308.6,770.1 1309.9,767.7C1311.3,765.4 1310.3,762.4 1312.1,759.7C1313.9,757 1320.6,750.4 1323.4,747.6C1326.1,744.8 1328.1,740.9 1332.8,739Z" fill="#DEF5E5" stroke="#fff" stroke-width="1.15" stroke-linejoin="round"/>
<path d="M1391.9,730.9C1395.1,729.3 1401.7,729.4 1406.6,729.9C1411.5,730.4 1426.7,732.7 1428.7,734.7C1430.6,736.7 1422.7,741.8 1421.4,744.9C1420.1,748.1 1419.4,754.8 1418.7,758.3C1418,761.9 1416.2,768.6 1416,771.8C1415.8,774.9 1419.7,779.5 1417.4,782C1415,784.5 1403.6,787.8 1398.6,790.6C1393.6,793.3 1383.7,799.1 1379.8,802.7C1375.8,806.2 1371,813.3 1369,817.4C1367.1,821.5 1366,829.2 1365,833.5C1364,837.8 1362,845.4 1361.5,849.7C1361,854 1360.9,862.2 1361,865.8C1361.1,869.4 1363.7,874.5 1362.3,876.5C1360.9,878.5 1353.6,879.5 1350.2,880.5C1346.8,881.6 1340.3,883.8 1336.8,884.6C1333.3,885.4 1326.4,887.5 1323.9,886.5C1321.4,885.4 1319.1,879.3 1318,876.5C1316.9,873.8 1315.1,868.6 1315.3,865.8C1315.5,862.9 1318.6,857.9 1319.3,855C1320.1,852.2 1320,847.9 1320.7,844.3C1321.4,840.7 1322.9,832.1 1324.7,828.2C1326.5,824.2 1331.4,819 1334.1,814.7C1336.8,810.4 1341.6,801 1344.9,795.9C1348.1,790.9 1355.1,782.2 1358.3,777.1C1361.5,772.1 1365.8,763 1369,758.3C1372.3,753.7 1379.4,745.9 1382.5,742.2C1385.5,738.6 1388.6,732.6 1391.9,730.9Z" fill="#423C7A" stroke="#fff" stroke-width="1.15" stroke-linejoin="round"/>
<path d="M1428.7,734.7C1432.1,734.1 1442,738 1446.9,740.1C1451.9,742.2 1460.7,747.1 1465.7,750.3C1470.7,753.4 1480.2,759.8 1484.5,763.7C1488.8,767.7 1494.4,775.2 1497.9,779.8C1501.5,784.5 1507.8,793.6 1511.4,798.6C1515,803.6 1521.2,812.4 1524.8,817.4C1528.4,822.4 1535.2,831.6 1538.2,836.2C1541.3,840.9 1548.3,852.3 1547.6,852.3C1546.9,852.3 1537,840.7 1532.9,836.2C1528.7,831.8 1521,823.1 1516.7,818.8C1512.4,814.5 1505.3,807.2 1500.6,804C1496,800.8 1486.8,796 1481.8,794.6C1476.8,793.2 1465.9,793.1 1463,793.3C1460.2,793.4 1462.5,795.8 1460.3,795.4C1458.2,795 1450.9,791.8 1446.9,790.6C1443,789.4 1434.7,787.7 1430.8,786.5C1426.9,785.4 1419.3,783.9 1417.4,782C1415.4,780 1415.8,774.9 1416,771.8C1416.2,768.6 1418,761.9 1418.7,758.3C1419.4,754.8 1420.1,748.1 1421.4,744.9C1422.7,741.8 1425.2,735.4 1428.7,734.7Z" fill="#366A9F" stroke="#fff" stroke-width="1.15" stroke-linejoin="round"/>
<path d="M1417.4,782.5C1421.7,782 1426.9,785.5 1430.8,786.5C1434.7,787.6 1443,789.3 1446.9,790.6C1450.9,791.8 1457.1,794.2 1460.3,795.9C1463.6,797.7 1469.1,801.9 1471.1,804C1473.1,806.1 1474.6,808.8 1475.1,812.1C1475.7,815.3 1474.9,824.6 1475.1,828.2C1475.3,831.8 1476.6,835.7 1476.5,838.9C1476.3,842.1 1475.2,849.3 1473.8,852.3C1472.3,855.4 1468,859.7 1465.7,861.7C1463.4,863.8 1458.3,867.6 1456.3,867.9C1454.3,868.3 1452.6,865 1450.9,864.4C1449.3,863.9 1446.9,863.3 1444.2,863.6C1441.5,864 1434.4,866.5 1430.8,867.1C1427.2,867.8 1421,867.6 1417.4,868.5C1413.8,869.4 1408.2,872.6 1403.9,873.8C1399.6,875.1 1390.7,877.5 1385.1,877.9C1379.6,878.2 1365.5,878.1 1362.3,876.5C1359.1,874.9 1361.1,869.4 1361,865.8C1360.9,862.2 1361,854 1361.5,849.7C1362,845.4 1364,837.8 1365,833.5C1366,829.2 1367.1,821.5 1369,817.4C1371,813.3 1375.8,806.2 1379.8,802.7C1383.7,799.1 1393.6,793.3 1398.6,790.6C1403.6,787.9 1413.1,783.1 1417.4,782.5Z" fill="#3E4C93" stroke="#fff" stroke-width="1.15" stroke-linejoin="round"/>
<path d="M1463,793.8C1464.5,792.6 1476.8,793.7 1481.8,795.1C1486.8,796.6 1496,801.3 1500.6,804.5C1505.3,807.8 1512.4,815 1516.7,819.3C1521,823.6 1528.7,832.2 1532.9,836.8C1537,841.3 1544.8,849.9 1547.6,853.7C1550.5,857.5 1553.3,861.5 1554.3,865.2C1555.4,869 1556,878.4 1555.7,881.9C1555.3,885.4 1554.7,889.7 1551.7,891.3C1548.6,892.9 1537.2,892.9 1532.9,894C1528.6,895 1522.7,898.1 1519.4,899.3C1516.2,900.6 1510.8,903.6 1508.7,903.4C1506.5,903.2 1505.1,899.3 1503.3,898C1501.5,896.7 1498.1,894.4 1495.3,894C1492.4,893.5 1484.3,896 1481.8,894.8C1479.3,893.5 1478.6,887.4 1476.5,884.6C1474.3,881.8 1468.2,876 1465.7,873.8C1463.2,871.7 1457.7,870.1 1457.7,868.5C1457.7,866.8 1463.6,863.9 1465.7,861.7C1467.9,859.6 1472.3,855.4 1473.8,852.3C1475.2,849.3 1476.3,842.1 1476.5,838.9C1476.6,835.7 1475.3,831.8 1475.1,828.2C1474.9,824.6 1475.7,815.3 1475.1,812.1C1474.6,808.8 1472.7,806.4 1471.1,804C1469.5,801.6 1461.6,795 1463,793.8Z" fill="#3E4C93" stroke="#fff" stroke-width="1.15" stroke-linejoin="round"/>
<path d="M1554.3,865.2C1555.2,864.5 1560.4,872.9 1562.4,876.5C1564.4,880.2 1567.9,888.3 1569.1,892.6C1570.4,896.9 1571.6,904.4 1571.8,908.7C1572,913 1571.7,920.7 1570.5,924.9C1569.2,929 1565.3,936.2 1562.4,939.6C1559.5,943 1553.3,948.2 1549,950.4C1544.7,952.6 1534.9,955.5 1530.2,956C1525.4,956.5 1515.3,956.9 1513.5,953.9C1511.7,950.8 1517,937.1 1516.7,932.9C1516.5,928.7 1512.6,925.2 1511.4,922.2C1510.1,919.1 1507.6,912.5 1507.3,910.1C1507.1,907.7 1507.6,905.3 1509.2,903.9C1510.8,902.5 1516.3,900.6 1519.4,899.3C1522.6,898.1 1528.6,895.5 1532.9,894.5C1537.2,893.5 1548.6,893.5 1551.7,891.8C1554.7,890.1 1555.3,885.4 1555.7,881.9C1556,878.3 1553.4,866 1554.3,865.2Z" fill="#3B2C5B" stroke="#fff" stroke-width="1.15" stroke-linejoin="round"/>
<path d="M1252.2,910.6C1254.3,908.5 1261.2,908.5 1264.3,907.4C1267.3,906.3 1271.7,904 1275,902.6C1278.3,901.1 1285.4,897.5 1289,896.4C1292.6,895.3 1298.7,895.3 1301.9,894.5C1305,893.7 1309.7,891.5 1312.6,890.5C1315.6,889.5 1320.7,887.7 1323.9,887C1327.1,886.3 1333.3,885.9 1336.8,885.1C1340.3,884.3 1346.8,882.2 1350.2,881.1C1353.6,880 1358,877.3 1362.3,877.1C1366.6,876.8 1380,878 1382.5,879.2C1385,880.4 1382.5,884.7 1381.1,885.9C1379.7,887.2 1374.8,887.3 1371.7,888.6C1368.7,889.9 1361.9,892.6 1358.3,895.3C1354.7,898 1348.4,905.2 1344.9,908.7C1341.3,912.3 1335,918.9 1331.4,922.2C1327.8,925.4 1321.2,929.7 1318,932.9C1314.8,936.1 1310.1,943.1 1307.3,946.3C1304.4,949.6 1299,953.9 1296.5,957.1C1294,960.3 1290.2,967.3 1288.5,970.5C1286.7,973.7 1285.2,980.7 1283.1,981.3C1280.9,981.8 1275.4,975.9 1272.3,974.5C1269.3,973.2 1262.8,973 1260.3,971.1C1257.8,969.1 1255,963.1 1253.5,959.8C1252.1,956.5 1249.9,950.3 1249.5,946.3C1249.2,942.4 1251,933.3 1250.9,930.2C1250.7,927.2 1248.5,926.1 1248.7,923.5C1248.9,920.9 1250.1,912.8 1252.2,910.6Z" fill="#3E4C93" stroke="#fff" stroke-width="1.15" stroke-linejoin="round"/>
<path d="M1382.5,879.2C1385.3,877.5 1399.3,875.7 1403.9,874.4C1408.6,873 1413.8,869.9 1417.4,869C1421,868.1 1427.2,868.3 1430.8,867.7C1434.4,867 1441.5,864.5 1444.2,864.2C1446.9,863.8 1449.9,864.4 1450.9,865C1452,865.5 1453.5,866.2 1452.3,868.5C1451,870.7 1444,878.7 1441.5,881.9C1439,885.1 1436.4,889.8 1433.5,892.6C1430.6,895.5 1422.9,900.1 1420.1,903.4C1417.2,906.6 1413.3,913.6 1412,916.8C1410.7,920 1411.7,925 1410.7,927.5C1409.6,930 1407,933.1 1403.9,935.6C1400.9,938.1 1392.1,943.5 1387.8,946.3C1383.5,949.2 1375.7,954.6 1371.7,957.1C1367.8,959.6 1361.9,962.8 1358.3,965.1C1354.7,967.5 1348.4,972.4 1344.9,974.5C1341.3,976.7 1334.3,978.9 1331.4,981.3C1328.6,983.6 1325.9,989.5 1323.4,992C1320.9,994.5 1315.5,998.1 1312.6,1000.1C1309.8,1002 1304.2,1006.1 1301.9,1006.8C1299.6,1007.5 1297,1007.4 1295.2,1005.4C1293.4,1003.5 1290,995.2 1288.5,992C1286.9,988.8 1283.6,984.7 1283.6,981.8C1283.6,978.9 1286.7,973.8 1288.5,970.5C1290.2,967.2 1294,960.3 1296.5,957.1C1299,953.9 1304.4,949.6 1307.3,946.3C1310.1,943.1 1314.8,936.1 1318,932.9C1321.2,929.7 1328.2,925 1331.4,922.2C1334.7,919.3 1340.9,911.1 1342.2,911.4C1343.4,911.8 1340.8,921.9 1340.8,924.9C1340.8,927.8 1340.9,932.7 1342.2,933.5C1343.4,934.2 1347,932.1 1350.2,930.2C1353.5,928.4 1362.8,922.4 1366.3,919.5C1369.9,916.6 1374.9,911.6 1377.1,908.7C1379.2,905.9 1381.7,900.9 1382.5,898C1383.2,895.1 1382.5,889.8 1382.5,887.3C1382.5,884.8 1379.6,880.9 1382.5,879.2Z" fill="#3E4C93" stroke="#fff" stroke-width="1.15" stroke-linejoin="round"/>
<path d="M1381.1,886.5C1382.5,887.6 1383,895 1382.5,898C1381.9,901 1379.2,905.9 1377.1,908.7C1374.9,911.6 1369.9,916.6 1366.3,919.5C1362.8,922.4 1353.5,928.4 1350.2,930.2C1347,932.1 1343.6,933.8 1342.2,933.5C1340.7,933.1 1339.3,930.1 1339.5,927.5C1339.7,925 1341,918.2 1343.5,914.1C1346,910 1354.5,900 1358.3,896.7C1362,893.3 1368.7,890.5 1371.7,889.1C1374.8,887.8 1379.7,885.3 1381.1,886.5Z" fill="#347BA3" stroke="#fff" stroke-width="1.15" stroke-linejoin="round"/>
<path d="M1452.3,869C1454.4,867.3 1455.9,868.3 1457.7,869C1459.4,869.7 1463.2,872.2 1465.7,874.4C1468.2,876.5 1474.3,882.4 1476.5,885.1C1478.6,887.8 1481.8,892.3 1481.8,894.8C1481.8,897.2 1478.2,900.4 1476.5,903.4C1474.7,906.3 1471.6,913.6 1468.4,916.8C1465.2,920 1456.9,925.4 1452.3,927.5C1447.6,929.7 1437.8,931.8 1433.5,932.9C1429.2,934 1423.9,935.2 1420.1,935.6C1416.2,936 1405.7,936.7 1404.5,935.6C1403.2,934.5 1409.7,930 1410.7,927.5C1411.7,925 1410.7,920 1412,916.8C1413.3,913.6 1417.2,906.6 1420.1,903.4C1422.9,900.1 1430.6,895.5 1433.5,892.6C1436.4,889.8 1439,885 1441.5,881.9C1444,878.7 1450.1,870.7 1452.3,869Z" fill="#3D3466" stroke="#fff" stroke-width="1.15" stroke-linejoin="round"/>
<path d="M1481.8,895.3C1484.3,894.1 1492.4,894.1 1495.3,894.5C1498.1,894.9 1501.5,897.3 1503.3,898.5C1505.1,899.8 1508.1,902.4 1508.7,903.9C1509.2,905.4 1507,907.7 1507.3,910.1C1507.7,912.5 1511.9,919.8 1511.4,922.2C1510.8,924.5 1505.5,925.4 1503.3,927.5C1501.2,929.7 1498.5,936.1 1495.3,938.3C1492,940.4 1483.4,941.9 1479.1,943.7C1474.8,945.4 1467.3,948.8 1463,951.7C1458.7,954.6 1451.2,961.9 1446.9,965.1C1442.6,968.4 1435.5,973.4 1430.8,975.9C1426.1,978.4 1416.7,982.2 1412,983.9C1407.3,985.7 1399.8,987.3 1395.9,989.3C1391.9,991.3 1385.7,996.6 1382.5,998.7C1379.2,1000.9 1374.9,1003.8 1371.7,1005.4C1368.5,1007 1361.9,1009.5 1358.3,1010.8C1354.7,1012.1 1348.4,1014.1 1344.9,1014.8C1341.3,1015.5 1335,1015.6 1331.4,1016.2C1327.8,1016.7 1321.2,1018.9 1318,1018.9C1314.8,1018.9 1309.4,1017.7 1307.3,1016.2C1305.1,1014.7 1301.2,1009.7 1301.9,1007.6C1302.6,1005.5 1309.8,1002.6 1312.6,1000.6C1315.5,998.6 1320.9,995 1323.4,992.5C1325.9,990 1328.6,984.1 1331.4,981.8C1334.3,979.5 1341.3,977.2 1344.9,975.1C1348.4,972.9 1354.7,968 1358.3,965.7C1361.9,963.4 1367.8,960.1 1371.7,957.6C1375.7,955.1 1383.5,949.7 1387.8,946.9C1392.2,944 1400.2,937.6 1404.5,936.1C1408.8,934.7 1416.2,936.5 1420.1,936.1C1423.9,935.8 1429.2,934.5 1433.5,933.5C1437.8,932.4 1447.6,930.2 1452.3,928.1C1456.9,925.9 1465.2,920.6 1468.4,917.3C1471.6,914.1 1474.7,906.8 1476.5,903.9C1478.2,901 1479.3,896.6 1481.8,895.3Z" fill="#3B2C5B" stroke="#fff" stroke-width="1.15" stroke-linejoin="round"/>
<path d="M1511.4,922.7C1513.2,923.4 1516.5,928.8 1516.7,932.9C1517,937.1 1515.7,950.2 1513.5,953.9C1511.4,957.5 1504.1,958.4 1500.6,960.3C1497.1,962.2 1490.8,965.8 1487.2,967.8C1483.6,969.8 1478.4,973.2 1473.8,975.3C1469.1,977.5 1458.7,981.4 1452.3,983.9C1445.8,986.5 1432.6,991.8 1425.4,994.7C1418.3,997.6 1405.7,1002.7 1398.6,1005.4C1391.4,1008.1 1378.9,1012.7 1371.7,1014.8C1364.6,1017 1351.3,1020.5 1344.9,1021.5C1338.4,1022.6 1328.4,1023.2 1323.4,1022.9C1318.4,1022.5 1309.4,1019.8 1307.3,1018.9C1305.1,1018 1305.8,1016.2 1307.3,1016.2C1308.7,1016.2 1314.8,1018.9 1318,1018.9C1321.2,1018.9 1327.8,1016.7 1331.4,1016.2C1335,1015.6 1341.3,1015.5 1344.9,1014.8C1348.4,1014.1 1354.7,1012.1 1358.3,1010.8C1361.9,1009.5 1368.5,1007 1371.7,1005.4C1374.9,1003.8 1379.2,1000.9 1382.5,998.7C1385.7,996.6 1391.9,991.3 1395.9,989.3C1399.8,987.3 1407.3,985.7 1412,983.9C1416.7,982.2 1426.1,978.4 1430.8,975.9C1435.5,973.4 1442.6,968.4 1446.9,965.1C1451.2,961.9 1458.7,954.6 1463,951.7C1467.3,948.8 1474.8,945.4 1479.1,943.7C1483.4,941.9 1492,940.4 1495.3,938.3C1498.5,936.1 1501.2,929.6 1503.3,927.5C1505.5,925.5 1509.6,922 1511.4,922.7Z" fill="#413E7F" stroke="#fff" stroke-width="1.15" stroke-linejoin="round"/>
<path d="M1473.8,975.3C1473.1,975.1 1483.6,969.8 1487.2,967.8C1490.8,965.8 1497.1,962.2 1500.6,960.3C1504.1,958.4 1509.6,954.4 1513.5,953.9C1517.5,953.3 1530.5,955.1 1530.2,956.3C1529.9,957.5 1516.4,960.9 1511.4,962.7C1506.4,964.6 1497.6,968.3 1492.6,970C1487.6,971.7 1474.5,975.6 1473.8,975.3Z" fill="#366A9F" stroke="#fff" stroke-width="1.15" stroke-linejoin="round"/>
<path d="M1295.2,1005.4C1295.4,1004.6 1300.3,1006.1 1301.9,1007.6C1303.5,1009 1306.5,1014.7 1307.3,1016.2C1308,1017.7 1308.2,1019.2 1307.3,1018.9C1306.4,1018.5 1302.2,1015.3 1300.5,1013.5C1298.9,1011.7 1295,1006.2 1295.2,1005.4Z" fill="#366A9F" stroke="#fff" stroke-width="1.15" stroke-linejoin="round"/>
</g>
<defs><linearGradient id="mako" x1="0" y1="1" x2="0" y2="0">
<stop offset="0%" stop-color="#0B0405"/>
<stop offset="11.1%" stop-color="#28192F"/>
<stop offset="22.2%" stop-color="#3B2F5E"/>
<stop offset="33.3%" stop-color="#40498E"/>
<stop offset="44.4%" stop-color="#366A9F"/>
<stop offset="55.6%" stop-color="#348AA6"/>
<stop offset="66.7%" stop-color="#38AAAC"/>
<stop offset="77.8%" stop-color="#54C9AD"/>
<stop offset="88.9%" stop-color="#A0DFB9"/>
<stop offset="100%" stop-color="#DEF5E5"/>
</linearGradient></defs>
<rect x="1612.9" y="572.8" width="48" height="231.9" fill="url(#mako)"/>
<g stroke="#fff" stroke-opacity="0.62" stroke-width="1.7">
<line x1="1613.8" y1="631.5" x2="1623" y2="631.5"/>
<line x1="1650.8" y1="631.5" x2="1660" y2="631.5"/>
<line x1="1613.8" y1="695.2" x2="1623" y2="695.2"/>
<line x1="1650.8" y1="695.2" x2="1660" y2="695.2"/>
<line x1="1613.8" y1="758.4" x2="1623" y2="758.4"/>
<line x1="1650.8" y1="758.4" x2="1660" y2="758.4"/>
</g>
<g font-size="25.7" fill="#000">
<text x="1679.4" y="640.6">5.0</text>
<text x="1679.4" y="704.3">2.5</text>
<text x="1679.4" y="767.5">0.0</text>
</g>
<text x="1622.5" y="545.5" font-size="31.7" fill="#000"><tspan font-style="italic">t</tspan> statistic</text>
</svg></body></html>
